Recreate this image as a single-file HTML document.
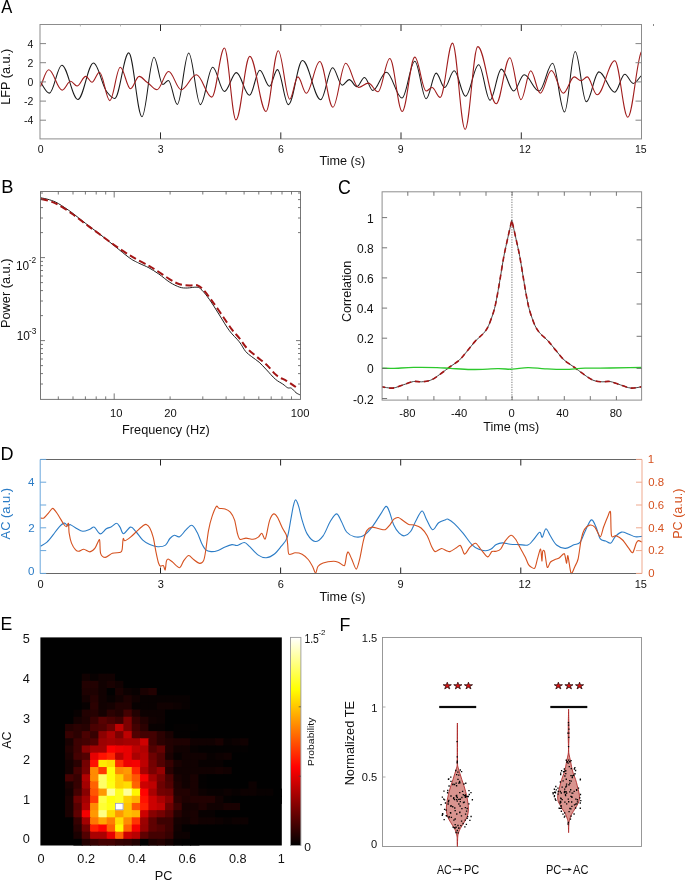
<!DOCTYPE html>
<html><head><meta charset="utf-8"><title>Figure</title>
<style>
html,body{margin:0;padding:0;background:#fff;}
body{width:685px;height:881px;overflow:hidden;font-family:"Liberation Sans",sans-serif;}
svg{display:block;}
svg text{font-family:"Liberation Sans",sans-serif;}
</style></head><body>
<svg width="685" height="881" viewBox="0 0 685 881">
<rect width="685" height="881" fill="#fff"/>
<g opacity="0.999">
<g id="A">
<path d="M40.5 82.2C43.7 86.4 46.2 93.1 49.4 93.1C53.9 93.1 57.3 65.2 61.8 65.2C67.6 65.2 72.1 99.4 77.9 99.4C83.5 99.4 87.9 63.1 93.5 63.1C98.3 63.1 102 86.1 106.8 91.8C109.6 95.2 111.9 98.5 114.7 98.5C119.7 98.5 123.7 52.9 128.7 52.9C133.5 52.9 137.2 116.7 142 116.7C146.3 116.7 149.7 57.2 154 57.2C157.2 57.2 159.6 84.5 162.8 84.5C164.8 84.5 166.4 80.4 168.4 80.4C171.6 80.4 174.1 104.4 177.3 104.4C181.4 104.4 184.6 52.9 188.7 52.9C192.9 52.9 196.2 104.6 200.4 104.6C204.8 104.6 208.3 67.3 212.7 67.3C216.9 67.3 220.2 91.5 224.4 91.5C228.7 91.5 232.1 72.6 236.4 72.6C241.1 72.6 244.8 95.3 249.5 95.3C253.2 95.3 256.1 70.2 259.8 70.2C263.3 70.2 266 86.2 269.5 86.2C272.3 86.2 274.6 69.6 277.4 69.6C281.4 69.6 284.4 104.6 288.4 104.6C293.5 104.6 297.4 60.6 302.5 60.6C309.1 60.6 314.1 99.7 320.7 99.7C325 99.7 328.3 67.7 332.6 67.7C336.1 67.7 338.7 85.2 342.2 85.2C344.7 85.2 346.7 79.6 349.2 79.6C352 79.6 354.1 86.6 356.9 86.6C359.6 86.6 361.8 77.4 364.5 77.4C367.5 77.4 369.8 90.4 372.8 90.4C377.7 90.4 381.5 72.2 386.4 72.2C392 72.2 396.4 98 402 98C406.6 98 410.2 61.2 414.8 61.2C418.9 61.2 422.1 98.8 426.2 98.8C429.8 98.8 432.6 73.1 436.2 73.1C439.2 73.1 441.6 87.5 444.6 87.5C448.1 87.5 450.7 70.8 454.2 70.8C458.3 70.8 461.4 96.2 465.5 96.2C470.3 96.2 473.9 64.7 478.7 64.7C482.8 64.7 485.9 100.2 490 100.2C494.1 100.2 497.3 69.1 501.4 69.1C505.8 69.1 509.3 91 513.7 91C517.5 91 520.4 74.8 524.2 74.8C529.6 74.8 533.7 91 539.1 91C544 91 547.7 63.3 552.6 63.3C556.9 63.3 560.2 112 564.5 112C568.4 112 571.3 51.5 575.2 51.5C579.2 51.5 582.3 101.8 586.3 101.8C590.8 101.8 594.4 71.9 598.9 71.9C604.6 71.9 609 92.2 614.7 92.2C618.3 92.2 621.2 74.3 624.8 74.3C627.8 74.3 630.2 83.4 633.2 83.4C636.2 83.4 638.5 78.1 641.5 75.7" fill="none" stroke="#1a1a1a" stroke-width="1.05"/>
<path d="M40.5 86.6C43.5 80.1 45.7 69.8 48.7 69.8C53.6 69.8 57.3 90.1 62.2 90.1C65.2 90.1 67.6 81.3 70.6 81.3C72.9 81.3 74.7 86 77 86C80.2 86 82.6 76.4 85.8 76.4C88 76.4 89.7 82.2 91.9 82.2C94.6 82.2 96.8 72.2 99.5 72.2C103.2 72.2 106.1 100.6 109.8 100.6C113.6 100.6 116.5 67.3 120.3 67.3C124 67.3 126.8 88.7 130.5 88.7C133.6 88.7 136.1 76.4 139.2 76.4C142 76.4 144.2 80.5 147 82.2C150.6 84.4 153.4 89.7 157 89.7C161.2 89.7 164.4 71.5 168.6 71.5C173.1 71.5 176.7 89.7 181.2 89.7C186.7 89.7 190.9 74.8 196.4 74.8C201.9 74.8 206.3 97.1 211.8 97.1C216.3 97.1 219.9 48 224.4 48C228.6 48 231.8 119.9 236 119.9C241 119.9 244.8 56.4 249.8 56.4C255.6 56.4 260.2 111.5 266 111.5C270.4 111.5 273.9 50.7 278.3 50.7C282.4 50.7 285.6 99.2 289.7 99.2C292.7 99.2 294.9 76.9 297.9 76.9C300.9 76.9 303.3 93.2 306.3 93.2C311.2 93.2 314.9 61.5 319.8 61.5C324.5 61.5 328.2 107.2 332.9 107.2C337.5 107.2 341.1 63.3 345.7 63.3C350.3 63.3 353.9 87.5 358.5 87.5C362.1 87.5 364.8 83.1 368.4 83.1C371.9 83.1 374.5 91.8 378 91.8C382.2 91.8 385.6 58.5 389.8 58.5C394.3 58.5 397.7 111.5 402.2 111.5C406.7 111.5 410.3 57.1 414.8 57.1C418.9 57.1 422.1 91 426.2 91C428.3 91 429.9 87.5 432 87.5C435 87.5 437.2 97.4 440.2 97.4C444.6 97.4 448.1 43.1 452.5 43.1C457 43.1 460.6 129.5 465.1 129.5C469.7 129.5 473.2 46.6 477.8 46.6C484.4 46.6 489.6 103.7 496.2 103.7C501.1 103.7 504.9 57.7 509.8 57.7C513.8 57.7 517 99.7 521 99.7C524.5 99.7 527.2 70.8 530.7 70.8C534.2 70.8 536.8 93.2 540.3 93.2C544.3 93.2 547.4 70.5 551.4 70.5C555.7 70.5 559 93.2 563.3 93.2C567.3 93.2 570.3 76.9 574.3 76.9C576.7 76.9 578.6 80.8 581 80.8C583.2 80.8 585 76.9 587.2 76.9C590.8 76.9 593.5 94.8 597.1 94.8C603.5 94.8 608.4 60.8 614.8 60.8C619.5 60.8 623.1 117.2 627.8 117.2C632.7 117.2 636.6 58.9 641.5 51.5" fill="none" stroke="#a01c1c" stroke-width="1.1"/>
<rect x="40.0" y="24.5" width="601.5" height="114.4" fill="none" stroke="#8c8c8c" stroke-width="1"/>
<path d="M160.5 24.5v6.5M160.5 138.9v-6.5M280.8 24.5v6.5M280.8 138.9v-6.5M401 24.5v6.5M401 138.9v-6.5M521.3 24.5v6.5M521.3 138.9v-6.5" stroke="#2a2a2a" stroke-width="1" fill="none"/>
<path d="M80.4 24.5v2M120.5 24.5v2M200.6 24.5v2M240.7 24.5v2M320.9 24.5v2M360.9 24.5v2M441.1 24.5v2M481.2 24.5v2M561.3 24.5v2M601.4 24.5v2" stroke="#aaa" stroke-width="0.8" fill="none"/>
<path d="M40.0 43.6h6M641.5 43.6h-6M40.0 62.7h6M641.5 62.7h-6M40.0 81.9h6M641.5 81.9h-6M40.0 101.1h6M641.5 101.1h-6M40.0 120.2h6M641.5 120.2h-6" stroke="#858585" stroke-width="1" fill="none"/>
<text x="33.3" y="47.8" font-size="10.5" text-anchor="end" fill="#111">4</text>
<text x="33.3" y="66.9" font-size="10.5" text-anchor="end" fill="#111">2</text>
<text x="33.3" y="86.1" font-size="10.5" text-anchor="end" fill="#111">0</text>
<text x="33.3" y="105.3" font-size="10.5" text-anchor="end" fill="#111">-2</text>
<text x="33.3" y="124.4" font-size="10.5" text-anchor="end" fill="#111">-4</text>
<text x="40.6" y="153" font-size="10.5" text-anchor="middle" fill="#111">0</text>
<text x="160.7" y="153" font-size="10.5" text-anchor="middle" fill="#111">3</text>
<text x="280.9" y="153" font-size="10.5" text-anchor="middle" fill="#111">6</text>
<text x="400.7" y="153" font-size="10.5" text-anchor="middle" fill="#111">9</text>
<text x="524.9" y="153" font-size="10.5" text-anchor="middle" fill="#111">12</text>
<text x="640.8" y="153" font-size="10.5" text-anchor="middle" fill="#111">15</text>
<text transform="matrix(1 0 0 1 319.46 164.7)" font-size="12.65" fill="#111">Time (s)</text>
<text transform="matrix(0 -1.000 1 0 10.20 104.75)" font-size="12.65" fill="#111">LFP (a.u.)</text>
<text transform="matrix(0.89 0 0 1 1.27 12.8)" font-size="18.6" fill="#000">A</text>
<rect x="653" y="24" width="1" height="2" fill="#888"/>
</g>
<g id="B">
<path d="M41 197.8C42.4 198.1 46.7 198.9 49.6 199.8C52.5 200.8 54.6 201.3 58.3 203.5C62 205.7 67.5 209.4 72 212.7C76.5 216 81 219.9 85.6 223.4C90.1 226.9 94.5 230.1 99.3 233.8C104.1 237.5 109.2 241.7 114.2 245.7C119.2 249.7 125.6 255 129.1 257.6C132.6 260.2 133.5 260.4 135.3 261.4C137.1 262.4 137.7 262.6 140 263.7C142.3 264.8 145.8 266.1 148.9 267.8C152 269.5 155.3 271.6 158.8 274C162.3 276.4 166.3 280.1 169.8 282.3C173.3 284.5 176.8 286.2 179.7 287.2C182.6 288.1 184.3 288 187.2 288C190.1 288 194.6 286.8 197.1 287.2C199.6 287.6 199.9 288.1 202 290.2C204.1 292.3 206.6 295.5 209.5 299.6C212.4 303.7 216.1 309.8 219.4 315C222.7 320.2 226.1 326.2 229.4 330.7C232.7 335.2 236.6 338.4 239.3 341.8C242 345.2 243.4 348.8 245.5 351.3C247.6 353.8 249.4 354.9 251.7 356.7C254 358.5 256.6 360 259.1 362.2C261.6 364.4 263.9 367.1 266.6 369.9C269.3 372.7 272.6 376.8 275.3 379.1C278 381.5 280.6 382.6 282.7 384C284.8 385.4 286.2 387.1 287.7 387.8C289.1 388.5 290 387.4 291.4 388.2C292.8 389 294.5 391.5 296 392.7C297.5 393.9 299.8 394.7 300.5 395.1" fill="none" stroke="#222" stroke-width="1"/>
<path d="M41 199C42.4 199.3 46.7 200 49.6 201C52.5 202 54.6 202.7 58.3 204.8C62 206.9 67.5 210.5 72 213.7C76.5 216.9 81 220.6 85.6 224C90.1 227.4 94.5 230.5 99.3 234C104.1 237.5 109.2 241.5 114.2 245C119.2 248.5 124.8 252.2 129.1 254.9C133.4 257.6 136.7 259.4 140 261.2C143.3 263 146.4 264.4 148.9 265.8C151.4 267.2 151.4 267.1 154.9 269.4C158.4 271.6 165.7 276.8 169.8 279.3C173.9 281.8 176.4 283.3 179.7 284.3C183 285.3 186.7 285.4 189.6 285.5C192.5 285.6 194.8 284.5 197.1 285.2C199.4 285.9 200.8 287.1 203.3 289.7C205.8 292.3 208.9 296.7 212 300.9C215.1 305.1 218.6 310.2 221.9 315C225.2 319.8 228.9 325.5 231.8 329.4C234.7 333.2 236.8 335 239.3 338.1C241.8 341.2 243.8 344.9 246.7 348C249.6 351.1 253.4 353.9 256.7 356.7C260 359.5 263.3 361.6 266.6 364.7C269.9 367.8 273.2 372.6 276.5 375.3C279.8 378 283.2 378.9 286.4 380.8C289.6 382.8 294.3 386 295.9 387" fill="none" stroke="#a31515" stroke-width="2" stroke-dasharray="7 3.6"/>
<rect x="40.5" y="191.5" width="260.0" height="207.89999999999998" fill="none" stroke="#777" stroke-width="1"/>
<path d="M58.3 191.5v3M58.3 399.4v-3M73 191.5v3M73 399.4v-3M85.4 191.5v3M85.4 399.4v-3M96.2 191.5v3M96.2 399.4v-3M105.7 191.5v3M105.7 399.4v-3M170.1 191.5v3M170.1 399.4v-3M202.8 191.5v3M202.8 399.4v-3M226.1 191.5v3M226.1 399.4v-3M244.1 191.5v3M244.1 399.4v-3M258.8 191.5v3M258.8 399.4v-3M271.2 191.5v3M271.2 399.4v-3M282 191.5v3M282 399.4v-3M291.5 191.5v3M291.5 399.4v-3M114.2 191.5v6M114.2 399.4v-6M40.5 384h2.5M300.5 384h-2.5M40.5 373.6h2.5M300.5 373.6h-2.5M40.5 365.6h2.5M300.5 365.6h-2.5M40.5 359h2.5M300.5 359h-2.5M40.5 353.5h2.5M300.5 353.5h-2.5M40.5 348.6h2.5M300.5 348.6h-2.5M40.5 344.4h2.5M300.5 344.4h-2.5M40.5 340.6h4.5M300.5 340.6h-4.5M40.5 315.6h2.5M40.5 301h2.5M40.5 290.6h2.5M40.5 282.6h2.5M40.5 276h2.5M40.5 270.5h2.5M40.5 265.6h2.5M40.5 261.4h2.5M40.5 257.6h4.5M40.5 232.6h2.5M300.5 232.6h-2.5M40.5 218h2.5M300.5 218h-2.5M40.5 207.6h2.5M300.5 207.6h-2.5M40.5 199.6h2.5M300.5 199.6h-2.5M40.5 193h2.5M300.5 193h-2.5" stroke="#555" stroke-width="0.8" fill="none"/>
<text transform="matrix(1 0 0 1 109.96 417)" font-size="11.2" fill="#111">10</text>
<text transform="matrix(1 0 0 1 164.21 417)" font-size="11.2" fill="#111">20</text>
<text transform="matrix(1 0 0 1 290.85 417)" font-size="11.2" fill="#111">100</text>
<text transform="matrix(1.02 0 0 1 122.04 433.6)" font-size="12.5" fill="#111">Frequency (Hz)</text>
<text transform="matrix(0 -0.990 1 0 10.40 328.01)" font-size="12.90" fill="#111">Power (a.u.)</text>
<text transform="matrix(0.96 0 0 1 16 269.7)" font-size="12.3" fill="#111">10</text>
<text transform="matrix(1 0 0 1 28.73 263.4)" font-size="8.4" fill="#111">-2</text>
<text transform="matrix(0.96 0 0 1 16.8 339.9)" font-size="12.3" fill="#111">10</text>
<text transform="matrix(1 0 0 1 29.03 334)" font-size="8.4" fill="#111">-3</text>
<text transform="matrix(1 0 0 1 1.3 192.8)" font-size="18.31" fill="#000">B</text>
</g>
<g id="C">
<path d="M511.9 191.8V400.1" stroke="#999" stroke-width="1.3" stroke-dasharray="1.2 1.3" fill="none"/>
<path d="M382 386.8C383.8 387 389.1 388.4 392.6 388.1C396.1 387.8 399.6 386 403.1 384.9C406.6 383.8 410.5 382 413.6 381.5C416.7 381 418.7 382 421.5 381.8C424.3 381.6 427.6 381.4 430.6 380.2C433.7 379 436.5 376.7 439.8 374.4C443.1 372.1 447.1 368.9 450.4 366.5C453.7 364.1 456.7 362.6 459.5 360C462.3 357.4 464.8 353.9 467.4 350.8C470 347.7 472.7 344 475.3 341.1C477.9 338.2 481 336.2 483.2 333.7C485.4 331.1 486.8 329.5 488.5 325.8C490.2 322.1 492.4 315.7 493.7 311.4C495 307.1 495.4 305.1 496.4 299.8C497.5 294.5 498.8 286.7 500 279.5C501.2 272.3 502.5 263.8 503.8 256.7C505.1 249.6 506.7 243.1 508 237C509.3 230.9 511.2 223 511.8 220.2C512.4 223 514.3 230.9 515.6 237C516.9 243.1 518.5 249.6 519.8 256.7C521.1 263.8 522.4 272.3 523.6 279.5C524.8 286.7 526.1 294.5 527.2 299.8C528.2 305.1 528.6 307.1 529.9 311.4C531.2 315.7 533.4 322.1 535.1 325.8C536.9 329.5 538.2 331.1 540.4 333.7C542.6 336.2 545.7 338.2 548.3 341.1C550.9 344 553.6 347.7 556.2 350.8C558.8 353.9 561.3 357.4 564.1 360C566.9 362.6 569.9 364.1 573.2 366.5C576.5 368.9 580.5 372.1 583.8 374.4C587.1 376.7 590 379 593 380.2C596 381.4 599.3 381.6 602.1 381.8C604.9 382 606.9 381 610 381.5C613.1 382 617 383.8 620.5 384.9C624 386 627.5 387.8 631 388.1C634.5 388.4 639.8 387 641.6 386.8" fill="none" stroke="#333" stroke-width="0.9" stroke-linejoin="miter"/>
<path d="M382 386.8C383.8 387 389.1 388.4 392.6 388.1C396.1 387.8 399.6 386 403.1 384.9C406.6 383.8 410.5 382 413.6 381.5C416.7 381 418.7 382 421.5 381.8C424.3 381.6 427.6 381.4 430.6 380.2C433.7 379 436.5 376.7 439.8 374.4C443.1 372.1 447.1 368.9 450.4 366.5C453.7 364.1 456.7 362.6 459.5 360C462.3 357.4 464.8 353.9 467.4 350.8C470 347.7 472.7 344 475.3 341.1C477.9 338.2 481 336.2 483.2 333.7C485.4 331.1 486.8 329.5 488.5 325.8C490.2 322.1 492.4 315.7 493.7 311.4C495 307.1 495.4 305.1 496.4 299.8C497.5 294.5 498.8 286.7 500 279.5C501.2 272.3 502.5 263.8 503.8 256.7C505.1 249.6 506.7 243.1 508 237C509.3 230.9 511.2 223 511.8 220.2C512.4 223 514.3 230.9 515.6 237C516.9 243.1 518.5 249.6 519.8 256.7C521.1 263.8 522.4 272.3 523.6 279.5C524.8 286.7 526.1 294.5 527.2 299.8C528.2 305.1 528.6 307.1 529.9 311.4C531.2 315.7 533.4 322.1 535.1 325.8C536.9 329.5 538.2 331.1 540.4 333.7C542.6 336.2 545.7 338.2 548.3 341.1C550.9 344 553.6 347.7 556.2 350.8C558.8 353.9 561.3 357.4 564.1 360C566.9 362.6 569.9 364.1 573.2 366.5C576.5 368.9 580.5 372.1 583.8 374.4C587.1 376.7 590 379 593 380.2C596 381.4 599.3 381.6 602.1 381.8C604.9 382 606.9 381 610 381.5C613.1 382 617 383.8 620.5 384.9C624 386 627.5 387.8 631 388.1C634.5 388.4 639.8 387 641.6 386.8" fill="none" stroke="#a31515" stroke-width="1.6" stroke-dasharray="5.2 3.8" stroke-dashoffset="2" stroke-linejoin="miter"/>
<path d="M382 368.2C383.8 368.2 387.3 368.5 392.6 368.4C397.9 368.3 406.2 367.5 413.6 367.4C421 367.3 430.9 367.4 437 367.6C443.1 367.8 444.7 368.1 450.4 368.4C456.1 368.7 463.1 369.4 471 369.5C478.9 369.6 490.8 368.8 497.7 368.7C504.6 368.6 507.1 369.4 512.1 369.2C517.1 369 522.5 367.7 528 367.6C533.5 367.5 538.8 368.5 545 368.8C551.2 369.1 558.3 369.5 565 369.4C571.7 369.3 577.5 368.4 585 368.2C592.5 368 602.5 368.1 610 368C617.5 367.9 624.7 367.7 630 367.6C635.3 367.5 640 367.5 642 367.5" fill="none" stroke="#2cc82c" stroke-width="1.35"/>
<rect x="382.1" y="191.8" width="259.5" height="208.3" fill="none" stroke="#8e8e8e" stroke-width="1"/>
<path d="M407.8 191.8v4M407.8 400.1v-4M433.9 191.8v4M433.9 400.1v-4M459.9 191.8v4M459.9 400.1v-4M486 191.8v4M486 400.1v-4M512.1 191.8v4M512.1 400.1v-4M538.2 191.8v4M538.2 400.1v-4M564.3 191.8v4M564.3 400.1v-4M590.3 191.8v4M590.3 400.1v-4M616.4 191.8v4M616.4 400.1v-4M382.1 217.6h5M382.1 247.8h5M382.1 277.9h5M382.1 308.1h5M382.1 338.2h5M382.1 368.4h5M382.1 398.5h5M641.6 368.4h-5M641.6 336.3h-5M641.6 304h-5M641.6 272.5h-5M641.6 239.9h-5M641.6 207.6h-5" stroke="#666" stroke-width="0.9" fill="none"/>
<text transform="matrix(0.98 0 0 1 367.08 222.6)" font-size="12.3" fill="#111">1</text>
<text transform="matrix(0.98 0 0 1 356.97 252.75)" font-size="12.3" fill="#111">0.8</text>
<text transform="matrix(0.98 0 0 1 356.97 282.9)" font-size="12.3" fill="#111">0.6</text>
<text transform="matrix(0.98 0 0 1 356.8 313.05)" font-size="12.3" fill="#111">0.4</text>
<text transform="matrix(0.98 0 0 1 357.05 343.2)" font-size="12.3" fill="#111">0.2</text>
<text transform="matrix(0.98 0 0 1 366.97 373.35)" font-size="12.3" fill="#111">0</text>
<text transform="matrix(0.98 0 0 1 353.04 403.5)" font-size="12.3" fill="#111">-0.2</text>
<text transform="matrix(1 0 0 1 399.18 416.9)" font-size="11.2" fill="#111">-80</text>
<text transform="matrix(1 0 0 1 450.98 416.9)" font-size="11.2" fill="#111">-40</text>
<text transform="matrix(1 0 0 1 508.49 416.9)" font-size="11.2" fill="#111">0</text>
<text transform="matrix(1 0 0 1 556.36 416.9)" font-size="11.2" fill="#111">40</text>
<text transform="matrix(1 0 0 1 609.65 416.9)" font-size="11.2" fill="#111">80</text>
<text transform="matrix(1 0 0 1 483.22 431.1)" font-size="12.55" fill="#111">Time (ms)</text>
<text transform="matrix(0 -0.964 1 0 351.10 322.06)" font-size="13.00" fill="#111">Correlation</text>
<text transform="matrix(0.91 0 0 1 338 194.31)" font-size="19.49" fill="#000">C</text>
</g>
<g id="D">
<path d="M40.5 546.2C41.6 545.5 44.9 544 47 542.1C49.1 540.2 51.1 537.5 53.1 534.9C55.1 532.3 57.4 528.8 59.3 526.8C61.2 524.8 63.1 523.3 64.4 523.1C65.8 522.9 66.4 525.4 67.4 525.7C68.4 526 69 524.2 70.5 524.7C72 525.2 74.5 527.3 76.6 528.4C78.6 529.5 80.6 531.1 82.8 531.2C85 531.3 88 529.9 89.9 529.2C91.8 528.5 92.7 526.4 94.4 527.2C96.1 528 98.1 533.6 100.1 533.9C102.1 534.2 104.4 530 106.3 528.8C108.2 527.6 109.7 527.7 111.4 526.8C113.1 525.9 115.1 523.2 116.5 523.3C117.9 523.3 118.8 525.4 120 527.1C121.2 528.8 121.8 533.7 123.5 533.7C125.2 533.7 128.4 527.5 130.5 527.1C132.6 526.7 133.8 529.3 135.8 531.5C137.9 533.7 140.5 538 142.8 540.2C145.1 542.4 147.3 543.5 149.8 544.6C152.3 545.7 155.1 546.6 157.7 546.7C160.3 546.8 163.5 546.5 165.5 545.1C167.5 543.7 168.4 540.1 169.9 538.5C171.4 536.9 172.7 535.6 174.3 535.3C175.9 535 177.7 537.6 179.6 536.7C181.5 535.9 183.7 532.1 185.7 530.2C187.7 528.3 189.9 524.9 191.8 525.3C193.7 525.6 195.5 529.4 197.1 532.3C198.7 535.2 200.1 540 201.5 542.9C202.9 545.8 204.2 548.4 205.8 549.9C207.4 551.4 209.1 551.5 211.1 551.6C213.1 551.7 215.8 551.2 218.1 550.4C220.4 549.6 222.8 547.9 225.1 546.9C227.4 545.9 230 544.8 232 544.6C234 544.4 235.2 545.9 237.3 545.5C239.4 545.1 242.3 542.4 244.3 542.5C246.3 542.6 247.2 544.3 249.5 546.4C251.8 548.5 255.5 553.2 258.3 555.1C261.1 557 263.6 557.9 266.2 557.7C268.8 557.6 271.6 556.1 274.1 554.2C276.6 552.3 278.9 549.2 281.1 546.4C283.3 543.6 285.6 542 287.2 537.6C288.8 533.2 289.7 525.4 290.7 520.1C291.7 514.9 292.5 509.5 293.3 506.1C294.1 502.7 294.7 499.9 295.6 499.9C296.5 499.9 297.5 502.7 298.6 506.1C299.7 509.5 300.7 515.4 302.1 520.1C303.6 524.8 305.1 530.5 307.3 534.1C309.5 537.7 312.6 541.2 315.2 541.5C317.8 541.8 320.6 539.1 323.1 535.8C325.6 532.5 327.9 525.4 330.1 521.8C332.3 518.1 334.6 514 336.5 513.9C338.4 513.8 339.7 518.4 341.4 521.4C343.1 524.4 344.4 529.5 346.6 532C348.8 534.5 351.7 536.1 354.5 536.7C357.3 537.3 360.4 537.4 363.3 535.8C366.2 534.2 369.1 530.8 372 527.1C374.9 523.5 378.4 517.4 380.8 513.9C383.2 510.4 384.6 506.7 386.1 506.4C387.6 506.1 388.3 509.1 389.6 512.2C390.9 515.4 392.3 521.8 393.9 525.3C395.5 528.8 397.4 531.5 399.2 533.2C401 535 402.6 536.1 404.5 535.8C406.4 535.5 408.7 534 410.6 531.5C412.5 529 413.9 524.4 415.8 521C417.7 517.6 420.2 511.3 422 511C423.8 510.7 424.6 516.1 426.4 519.2C428.1 522.3 430.5 529.1 432.5 529.7C434.5 530.3 436.4 524.4 438.6 522.7C440.8 521 444 520.3 445.6 519.7C447.2 519.1 446.7 518.6 448.1 519.2C449.6 519.9 451.8 521.3 454.3 523.6C456.8 525.9 460.1 529.7 463 533.2C465.9 536.7 469.2 541.9 471.8 544.6C474.4 547.3 476.5 548.3 478.8 549.3C481.1 550.3 483.8 550.8 485.8 550.7C487.9 550.7 489.4 550 491.1 549C492.9 548 494.4 545.6 496.3 544.6C498.2 543.6 500.2 543 502.5 542.9C504.8 542.8 507.5 544 510.3 544.3C513.1 544.6 516.2 544.5 519.1 544.6C522 544.7 525.6 545.7 527.9 545C530.2 544.3 531.1 542.3 533.1 540.2C535.1 538.1 538.1 532.8 539.6 532.3C541.1 531.8 541.2 537.8 542.3 537.2C543.3 536.6 544.5 528.9 545.9 528.7C547.3 528.6 548.8 533.5 550.6 536.3C552.4 539.1 554.4 543.3 556.9 545.3C559.4 547.3 562.6 548.5 565.4 548.4C568.2 548.3 571.4 545.8 573.9 544.8C576.4 543.8 578.3 544.5 580.2 542.1C582.1 539.7 583.6 534.1 585.5 530.4C587.4 526.7 589.6 520.4 591.4 519.9C593.2 519.4 594.6 524.1 596.1 527.3C597.6 530.5 598.7 536.6 600.3 538.9C601.9 541.2 603.8 540.3 605.6 541C607.4 541.7 609.3 543.8 610.9 543.1C612.5 542.4 613.3 538.6 615.1 536.8C616.9 535 619.2 532.5 621.5 532.1C623.8 531.7 626.6 533.4 628.9 534.2C631.2 535 633.1 536.4 635.3 536.8C637.5 537.2 640.9 536.5 642 536.4" fill="none" stroke="#2b7cc6" stroke-width="1.1" stroke-linejoin="round"/>
<path d="M40.5 518C41 518 42.8 518.7 43.9 518C45 517.3 47.8 513.7 49 512.4C50.2 511.1 51.6 508.3 52.7 508.4C53.8 508.5 55.8 511.5 57.2 513.5C58.6 515.5 62.2 521.9 63.4 523.7C64.6 525.5 65.7 526.8 66.4 526.7C67.1 526.6 68.1 522.5 68.5 523.3C68.9 524.1 68.7 530.3 69.1 532.9C69.5 535.5 70.6 540.8 71.5 543.1C72.4 545.4 74.6 548.7 75.6 549.8C76.6 550.9 77.6 551.4 78.7 551.3C79.8 551.2 82.3 549.1 83.8 549.2C85.3 549.3 88.4 552 89.9 551.9C91.4 551.8 93.7 549.8 95 548.2C96.3 546.6 98.8 538.9 99.5 539.6C100.2 540.3 99.8 550.9 100.6 553.3C101.4 555.7 103.7 557.4 105.3 557.4C106.9 557.4 110.4 554 112.4 553.3C114.4 552.6 119.3 552.8 120.6 552.3C121.9 551.8 121.9 551 122.2 549.2C122.5 547.4 122.8 539.7 123.2 538.6C123.6 537.5 123.9 541 124.9 540.8C125.9 540.6 128.8 538.6 130.5 537.2C132.2 535.8 135.7 532.2 137.5 530.6C139.3 529 142.5 526.1 143.7 525.3C144.9 524.5 145.5 524.1 146.3 524.5C147.1 524.9 148.9 526.3 149.8 528C150.7 529.7 152.5 534.5 153.3 537.6C154.1 540.7 155.2 548.2 155.9 551.6C156.6 555 157.9 561.1 158.5 563C159.1 564.9 159.9 565.9 160.6 566.2C161.3 566.5 162.8 565.1 163.4 565.6C164 566.1 164.8 570.6 165.2 570C165.6 569.4 166 562.7 166.4 561.2C166.8 559.7 167.4 558.9 168.2 559C169 559.1 171.1 560.9 172.6 562.1C174.1 563.3 178.1 567.9 179.6 567.7C181.1 567.5 182.7 562 183.9 560.4C185.1 558.8 187.4 555.6 188.7 555.5C190 555.4 192.1 558.4 193.6 559.5C195.1 560.6 198.4 563.3 199.7 563.4C201 563.5 202.9 562.2 203.7 560.4C204.5 558.6 205.2 553.9 205.8 549.9C206.4 545.9 207.7 535 208.5 530.6C209.3 526.2 210.9 519.8 212 516.6C213.1 513.4 215.5 507.5 216.4 506.4C217.3 505.3 217.8 507.9 219 508.2C220.2 508.5 223.6 508.5 225.1 509C226.6 509.5 229 510.7 230.3 512.2C231.6 513.7 233.7 517.3 234.6 520.1C235.5 522.9 236.6 530.4 237.3 533C238 535.6 238.7 538.6 239.9 539.3C241.1 540 244.3 538.1 246 538.1C247.7 538.1 251.4 539.4 253 539.3C254.6 539.2 257.1 537.9 258.3 537.1C259.5 536.3 260.9 532.9 261.8 533.2C262.7 533.5 264.2 539.4 264.9 539.3C265.6 539.2 266.4 534.9 267 532.3C267.6 529.7 268.8 522.6 269.7 520.1C270.6 517.6 272.6 514.2 273.7 513.9C274.8 513.6 276.4 515.5 277.6 517.5C278.8 519.5 281.6 526.5 282.8 528.8C284 531.1 285.6 532.9 286.3 535C287 537.1 287.4 542 287.7 544.6C288 547.2 287.9 553.1 288.9 554.2C289.9 555.3 293.3 552.8 295.1 552.8C296.9 552.8 300.4 553.3 302.1 554.2C303.8 555.1 306.8 557.9 308.2 559.5C309.6 561.1 311.6 564.7 312.6 566.5C313.6 568.3 314.9 573.2 315.6 573.2C316.3 573.2 316.9 567.9 317.9 566.5C318.9 565.1 321 563.7 323.1 563C325.2 562.3 331.5 561.3 333.6 561.2C335.7 561.1 337.3 561.9 338.8 562.5C340.3 563.1 343.5 566.6 344.5 565.6C345.5 564.6 346.1 556.9 346.6 555.1C347.1 553.3 347.7 551.5 348.4 552.1C349.1 552.7 350.8 557.2 351.9 559.5C353 561.8 355.2 569.2 356.3 569.1C357.4 569 358.9 562.3 359.8 558.6C360.7 554.9 362.4 544.8 363.3 541.1C364.2 537.4 365.6 532.5 366.8 530.6C368 528.7 370.4 527.3 372 527.1C373.6 526.9 377.3 528.5 379.1 528.8C380.9 529.1 383.8 530.2 385.2 529.7C386.6 529.2 388.4 526.7 389.6 525.3C390.8 523.9 392.7 520.2 393.9 519.2C395.1 518.2 397 517.3 398.3 517.5C399.6 517.7 402.2 520.1 403.6 521C405 521.9 407.4 524 408.8 524.5C410.2 525 412.5 524.5 414.1 525C415.7 525.5 419.4 526.6 421.1 528C422.8 529.4 425.8 533.3 427.2 535.8C428.6 538.3 430.5 544.3 431.6 546.4C432.7 548.5 433.8 551.3 435.1 551.6C436.4 551.9 440 548.6 441.5 548.5C443 548.4 445.4 550.3 446.5 550.7C447.6 551.1 448.6 551.9 449.9 551.6C451.2 551.3 454.6 548.9 456 548.1C457.4 547.3 459.3 544.8 460.4 545.5C461.5 546.2 463.2 552.3 463.9 553.4C464.6 554.5 464.9 554.2 465.7 553.4C466.5 552.6 468.7 548.6 470 547.2C471.3 545.8 474.2 543 475.6 543.2C477 543.4 479 547.2 480.6 549C482.2 550.8 486.1 556.6 487.6 556.9C489.1 557.2 490.7 552.3 491.9 551.6C493.1 550.9 495.1 551.6 496.3 551.3C497.5 551 499.5 550.4 500.7 549C501.9 547.6 503.7 542.9 505.1 541.1C506.5 539.3 509.5 535.5 510.9 535.3C512.3 535.1 514.3 537.5 515.6 539.3C516.9 541.1 519.5 546.7 520.8 549C522.1 551.3 524.1 554.8 525.2 556.9C526.3 559 527.5 563.3 528.7 564.8C529.9 566.3 533.3 569.1 534.5 568.3C535.7 567.5 536.7 561.2 537.5 558.6C538.3 556 540 548.7 540.6 549C541.2 549.3 541.6 560.7 541.9 561C542.2 561.3 542.3 552.7 542.7 551.4C543.1 550.1 544 549.5 544.6 551.6C545.2 553.7 546.4 565.9 547.2 567.3C548 568.7 549.5 563 550.5 562C551.5 561 553.9 560 555 559.5C556.1 559 557.9 558.8 559.1 558C560.3 557.2 563.3 553 564.3 553.7C565.3 554.4 566 562.9 566.5 563.2C567 563.5 567.3 554.4 567.9 555.8C568.5 557.2 570.2 572 571.1 573.4C572 574.8 574 568.3 574.9 566.4C575.8 564.5 577.2 562.7 578.1 559C579 555.3 580.4 542.8 581.3 538.9C582.2 535 583.4 531.2 584.5 529.4C585.6 527.6 588.3 525.4 589.7 525.1C591.1 524.8 593.6 525.7 595 527.3C596.4 528.9 599.2 536.8 600.3 536.8C601.4 536.8 602.5 530 603.5 527.3C604.5 524.6 606.8 518.7 607.7 516.7C608.6 514.7 610 509.5 610.5 512C611 514.5 610.7 532.5 611.5 535.7C612.3 538.9 614.7 535.1 616.2 535.7C617.7 536.3 620.9 538.3 622.6 540C624.3 541.7 627.6 546.7 628.9 548.4C630.2 550.1 631.7 553.4 632.7 552.7C633.7 552 635.5 544.7 636.3 543.1C637.1 541.5 637.6 540.7 638.4 540.6C639.2 540.5 641.5 541.9 642 542.1" fill="none" stroke="#d5511f" stroke-width="1.1" stroke-linejoin="round"/>
<path d="M40.2 459.5H642M40.2 573.5H642" stroke="#666" stroke-width="1" fill="none"/>
<path d="M160.5 459.5v6M160.5 573.5v-6M280.6 459.5v6M280.6 573.5v-6M400.7 459.5v6M400.7 573.5v-6M520.8 459.5v6M520.8 573.5v-6" stroke="#222" stroke-width="1" fill="none"/>
<path d="M40.2 459.5V573.5M40.2 573.4h6M40.2 550.6h6M40.2 527.8h6M40.2 505h6M40.2 482.2h6M40.2 459.4h6" stroke="#6aa7dc" stroke-width="1" fill="none"/>
<path d="M642 459.5V573.5M642 573.4h-6M642 550.6h-6M642 527.8h-6M642 505h-6M642 482.2h-6M642 459.4h-6" stroke="#efa98e" stroke-width="1" fill="none"/>
<text transform="matrix(1 0 0 1 27.89 485.7)" font-size="11.6" fill="#2b7cc6">4</text>
<text transform="matrix(1 0 0 1 28.13 531.8)" font-size="11.6" fill="#2b7cc6">2</text>
<text transform="matrix(1 0 0 1 28 575.2)" font-size="11.6" fill="#2b7cc6">0</text>
<text transform="matrix(1 0 0 1 648.25 577.2)" font-size="11.4" fill="#d5511f">0</text>
<text transform="matrix(1 0 0 1 648.25 554.4)" font-size="11.4" fill="#d5511f">0.2</text>
<text transform="matrix(1 0 0 1 648.25 531.6)" font-size="11.4" fill="#d5511f">0.4</text>
<text transform="matrix(1 0 0 1 648.25 508.8)" font-size="11.4" fill="#d5511f">0.6</text>
<text transform="matrix(1 0 0 1 648.25 486)" font-size="11.4" fill="#d5511f">0.8</text>
<text transform="matrix(1 0 0 1 647.83 463.2)" font-size="11.4" fill="#d5511f">1</text>
<text transform="matrix(1 0 0 1 37.54 587.6)" font-size="11" fill="#111">0</text>
<text transform="matrix(1 0 0 1 157.67 587.6)" font-size="11" fill="#111">3</text>
<text transform="matrix(1 0 0 1 277.8 587.6)" font-size="11" fill="#111">6</text>
<text transform="matrix(1 0 0 1 397.54 587.6)" font-size="11" fill="#111">9</text>
<text transform="matrix(1 0 0 1 518.54 587.6)" font-size="11" fill="#111">12</text>
<text transform="matrix(1 0 0 1 634.69 587.6)" font-size="11" fill="#111">15</text>
<text transform="matrix(1 0 0 1 319.56 601)" font-size="12.65" fill="#111">Time (s)</text>
<text transform="matrix(0 -1.000 1 0 10.30 539.42)" font-size="12.90" fill="#2b7cc6">AC (a.u.)</text>
<text transform="matrix(0 -1.000 1 0 681.60 538.83)" font-size="12.60" fill="#d5511f">PC (a.u.)</text>
<text transform="matrix(0.95 0 0 1 0.52 460.3)" font-size="19.04" fill="#000">D</text>
</g>
<g id="E">
<rect x="40.4" y="637.4" width="241.4" height="208.1" fill="#000"/>
<clipPath id="ec"><rect x="40.4" y="637.4" width="241.4" height="208.1"/></clipPath>
<g clip-path="url(#ec)">
<rect x="81.72" y="673.62" width="9.34" height="8.18" fill="#110000"/>
<rect x="90.06" y="673.62" width="9.34" height="8.18" fill="#080000"/>
<rect x="98.4" y="673.62" width="9.34" height="8.18" fill="#110000"/>
<rect x="106.73" y="673.62" width="9.34" height="8.18" fill="#110000"/>
<rect x="115.07" y="673.62" width="9.34" height="8.18" fill="#000000"/>
<rect x="81.72" y="680.81" width="9.34" height="8.18" fill="#220000"/>
<rect x="90.06" y="680.81" width="9.34" height="8.18" fill="#220000"/>
<rect x="98.4" y="680.81" width="9.34" height="8.18" fill="#110000"/>
<rect x="106.73" y="680.81" width="9.34" height="8.18" fill="#190000"/>
<rect x="115.07" y="680.81" width="9.34" height="8.18" fill="#110000"/>
<rect x="123.4" y="680.81" width="9.34" height="8.18" fill="#000000"/>
<rect x="81.72" y="688" width="9.34" height="8.18" fill="#1e0000"/>
<rect x="90.06" y="688" width="9.34" height="8.18" fill="#1e0000"/>
<rect x="98.4" y="688" width="9.34" height="8.18" fill="#110000"/>
<rect x="106.73" y="688" width="9.34" height="8.18" fill="#000000"/>
<rect x="115.07" y="688" width="9.34" height="8.18" fill="#190000"/>
<rect x="123.4" y="688" width="9.34" height="8.18" fill="#0d0000"/>
<rect x="131.74" y="688" width="9.34" height="8.18" fill="#080000"/>
<rect x="140.07" y="688" width="9.34" height="8.18" fill="#190000"/>
<rect x="148.41" y="688" width="9.34" height="8.18" fill="#220000"/>
<rect x="156.74" y="688" width="9.34" height="8.18" fill="#000000"/>
<rect x="81.72" y="695.18" width="9.34" height="8.18" fill="#150000"/>
<rect x="90.06" y="695.18" width="9.34" height="8.18" fill="#260000"/>
<rect x="98.4" y="695.18" width="9.34" height="8.18" fill="#110000"/>
<rect x="106.73" y="695.18" width="9.34" height="8.18" fill="#080000"/>
<rect x="115.07" y="695.18" width="9.34" height="8.18" fill="#110000"/>
<rect x="123.4" y="695.18" width="9.34" height="8.18" fill="#1e0000"/>
<rect x="131.74" y="695.18" width="9.34" height="8.18" fill="#110000"/>
<rect x="140.07" y="695.18" width="9.34" height="8.18" fill="#080000"/>
<rect x="148.41" y="695.18" width="9.34" height="8.18" fill="#080000"/>
<rect x="156.74" y="695.18" width="9.34" height="8.18" fill="#080000"/>
<rect x="165.07" y="695.18" width="9.34" height="8.18" fill="#080000"/>
<rect x="173.41" y="695.18" width="9.34" height="8.18" fill="#080000"/>
<rect x="181.75" y="695.18" width="9.34" height="8.18" fill="#080000"/>
<rect x="190.08" y="695.18" width="9.34" height="8.18" fill="#000000"/>
<rect x="81.72" y="702.37" width="9.34" height="8.18" fill="#080000"/>
<rect x="90.06" y="702.37" width="9.34" height="8.18" fill="#2b0000"/>
<rect x="98.4" y="702.37" width="9.34" height="8.18" fill="#110000"/>
<rect x="106.73" y="702.37" width="9.34" height="8.18" fill="#150000"/>
<rect x="115.07" y="702.37" width="9.34" height="8.18" fill="#220000"/>
<rect x="123.4" y="702.37" width="9.34" height="8.18" fill="#220000"/>
<rect x="131.74" y="702.37" width="9.34" height="8.18" fill="#080000"/>
<rect x="140.07" y="702.37" width="9.34" height="8.18" fill="#080000"/>
<rect x="148.41" y="702.37" width="9.34" height="8.18" fill="#080000"/>
<rect x="156.74" y="702.37" width="9.34" height="8.18" fill="#110000"/>
<rect x="165.07" y="702.37" width="9.34" height="8.18" fill="#110000"/>
<rect x="173.41" y="702.37" width="9.34" height="8.18" fill="#0d0000"/>
<rect x="181.75" y="702.37" width="9.34" height="8.18" fill="#080000"/>
<rect x="190.08" y="702.37" width="9.34" height="8.18" fill="#000000"/>
<rect x="73.39" y="709.55" width="9.34" height="8.18" fill="#080000"/>
<rect x="81.72" y="709.55" width="9.34" height="8.18" fill="#220000"/>
<rect x="90.06" y="709.55" width="9.34" height="8.18" fill="#260000"/>
<rect x="98.4" y="709.55" width="9.34" height="8.18" fill="#150000"/>
<rect x="106.73" y="709.55" width="9.34" height="8.18" fill="#2b0000"/>
<rect x="115.07" y="709.55" width="9.34" height="8.18" fill="#220000"/>
<rect x="123.4" y="709.55" width="9.34" height="8.18" fill="#430000"/>
<rect x="131.74" y="709.55" width="9.34" height="8.18" fill="#220000"/>
<rect x="140.07" y="709.55" width="9.34" height="8.18" fill="#0d0000"/>
<rect x="148.41" y="709.55" width="9.34" height="8.18" fill="#0d0000"/>
<rect x="156.74" y="709.55" width="9.34" height="8.18" fill="#0d0000"/>
<rect x="165.07" y="709.55" width="9.34" height="8.18" fill="#000000"/>
<rect x="173.41" y="709.55" width="9.34" height="8.18" fill="#000000"/>
<rect x="181.75" y="709.55" width="9.34" height="8.18" fill="#000000"/>
<rect x="190.08" y="709.55" width="9.34" height="8.18" fill="#000000"/>
<rect x="73.39" y="716.74" width="9.34" height="8.18" fill="#150000"/>
<rect x="81.72" y="716.74" width="9.34" height="8.18" fill="#1e0000"/>
<rect x="90.06" y="716.74" width="9.34" height="8.18" fill="#370000"/>
<rect x="98.4" y="716.74" width="9.34" height="8.18" fill="#580000"/>
<rect x="106.73" y="716.74" width="9.34" height="8.18" fill="#4a0000"/>
<rect x="115.07" y="716.74" width="9.34" height="8.18" fill="#3d0000"/>
<rect x="123.4" y="716.74" width="9.34" height="8.18" fill="#7c0000"/>
<rect x="131.74" y="716.74" width="9.34" height="8.18" fill="#370000"/>
<rect x="140.07" y="716.74" width="9.34" height="8.18" fill="#220000"/>
<rect x="148.41" y="716.74" width="9.34" height="8.18" fill="#110000"/>
<rect x="156.74" y="716.74" width="9.34" height="8.18" fill="#0d0000"/>
<rect x="165.07" y="716.74" width="9.34" height="8.18" fill="#000000"/>
<rect x="65.06" y="723.92" width="9.34" height="8.18" fill="#220000"/>
<rect x="73.39" y="723.92" width="9.34" height="8.18" fill="#2b0000"/>
<rect x="81.72" y="723.92" width="9.34" height="8.18" fill="#260000"/>
<rect x="90.06" y="723.92" width="9.34" height="8.18" fill="#4a0000"/>
<rect x="98.4" y="723.92" width="9.34" height="8.18" fill="#510000"/>
<rect x="106.73" y="723.92" width="9.34" height="8.18" fill="#6d0000"/>
<rect x="115.07" y="723.92" width="9.34" height="8.18" fill="#bd0000"/>
<rect x="123.4" y="723.92" width="9.34" height="8.18" fill="#7c0000"/>
<rect x="131.74" y="723.92" width="9.34" height="8.18" fill="#430000"/>
<rect x="140.07" y="723.92" width="9.34" height="8.18" fill="#2b0000"/>
<rect x="148.41" y="723.92" width="9.34" height="8.18" fill="#080000"/>
<rect x="156.74" y="723.92" width="9.34" height="8.18" fill="#080000"/>
<rect x="165.07" y="723.92" width="9.34" height="8.18" fill="#000000"/>
<rect x="173.41" y="723.92" width="9.34" height="8.18" fill="#040000"/>
<rect x="181.75" y="723.92" width="9.34" height="8.18" fill="#040000"/>
<rect x="190.08" y="723.92" width="9.34" height="8.18" fill="#040000"/>
<rect x="198.42" y="723.92" width="9.34" height="8.18" fill="#000000"/>
<rect x="65.06" y="731.11" width="9.34" height="8.18" fill="#370000"/>
<rect x="73.39" y="731.11" width="9.34" height="8.18" fill="#2b0000"/>
<rect x="81.72" y="731.11" width="9.34" height="8.18" fill="#4a0000"/>
<rect x="90.06" y="731.11" width="9.34" height="8.18" fill="#370000"/>
<rect x="98.4" y="731.11" width="9.34" height="8.18" fill="#8c0000"/>
<rect x="106.73" y="731.11" width="9.34" height="8.18" fill="#ac0000"/>
<rect x="115.07" y="731.11" width="9.34" height="8.18" fill="#7c0000"/>
<rect x="123.4" y="731.11" width="9.34" height="8.18" fill="#bd0000"/>
<rect x="131.74" y="731.11" width="9.34" height="8.18" fill="#510000"/>
<rect x="140.07" y="731.11" width="9.34" height="8.18" fill="#430000"/>
<rect x="148.41" y="731.11" width="9.34" height="8.18" fill="#430000"/>
<rect x="156.74" y="731.11" width="9.34" height="8.18" fill="#2b0000"/>
<rect x="165.07" y="731.11" width="9.34" height="8.18" fill="#190000"/>
<rect x="173.41" y="731.11" width="9.34" height="8.18" fill="#040000"/>
<rect x="181.75" y="731.11" width="9.34" height="8.18" fill="#040000"/>
<rect x="190.08" y="731.11" width="9.34" height="8.18" fill="#000000"/>
<rect x="198.42" y="731.11" width="9.34" height="8.18" fill="#000000"/>
<rect x="65.06" y="738.29" width="9.34" height="8.18" fill="#190000"/>
<rect x="73.39" y="738.29" width="9.34" height="8.18" fill="#3d0000"/>
<rect x="81.72" y="738.29" width="9.34" height="8.18" fill="#430000"/>
<rect x="90.06" y="738.29" width="9.34" height="8.18" fill="#510000"/>
<rect x="98.4" y="738.29" width="9.34" height="8.18" fill="#9c0000"/>
<rect x="106.73" y="738.29" width="9.34" height="8.18" fill="#a40000"/>
<rect x="115.07" y="738.29" width="9.34" height="8.18" fill="#9c0000"/>
<rect x="123.4" y="738.29" width="9.34" height="8.18" fill="#a40000"/>
<rect x="131.74" y="738.29" width="9.34" height="8.18" fill="#a40000"/>
<rect x="140.07" y="738.29" width="9.34" height="8.18" fill="#ce0000"/>
<rect x="148.41" y="738.29" width="9.34" height="8.18" fill="#430000"/>
<rect x="156.74" y="738.29" width="9.34" height="8.18" fill="#2b0000"/>
<rect x="165.07" y="738.29" width="9.34" height="8.18" fill="#220000"/>
<rect x="173.41" y="738.29" width="9.34" height="8.18" fill="#1e0000"/>
<rect x="181.75" y="738.29" width="9.34" height="8.18" fill="#1e0000"/>
<rect x="190.08" y="738.29" width="9.34" height="8.18" fill="#110000"/>
<rect x="198.42" y="738.29" width="9.34" height="8.18" fill="#110000"/>
<rect x="206.75" y="738.29" width="9.34" height="8.18" fill="#110000"/>
<rect x="215.09" y="738.29" width="9.34" height="8.18" fill="#190000"/>
<rect x="223.42" y="738.29" width="9.34" height="8.18" fill="#080000"/>
<rect x="231.75" y="738.29" width="9.34" height="8.18" fill="#0d0000"/>
<rect x="240.09" y="738.29" width="9.34" height="8.18" fill="#110000"/>
<rect x="248.43" y="738.29" width="9.34" height="8.18" fill="#000000"/>
<rect x="65.06" y="745.48" width="9.34" height="8.18" fill="#220000"/>
<rect x="73.39" y="745.48" width="9.34" height="8.18" fill="#3d0000"/>
<rect x="81.72" y="745.48" width="9.34" height="8.18" fill="#880000"/>
<rect x="90.06" y="745.48" width="9.34" height="8.18" fill="#a30000"/>
<rect x="98.4" y="745.48" width="9.34" height="8.18" fill="#a30000"/>
<rect x="106.73" y="745.48" width="9.34" height="8.18" fill="#fc0000"/>
<rect x="115.07" y="745.48" width="9.34" height="8.18" fill="#ee0000"/>
<rect x="123.4" y="745.48" width="9.34" height="8.18" fill="#e70000"/>
<rect x="131.74" y="745.48" width="9.34" height="8.18" fill="#be0000"/>
<rect x="140.07" y="745.48" width="9.34" height="8.18" fill="#b10000"/>
<rect x="148.41" y="745.48" width="9.34" height="8.18" fill="#520000"/>
<rect x="156.74" y="745.48" width="9.34" height="8.18" fill="#660000"/>
<rect x="165.07" y="745.48" width="9.34" height="8.18" fill="#220000"/>
<rect x="173.41" y="745.48" width="9.34" height="8.18" fill="#110000"/>
<rect x="181.75" y="745.48" width="9.34" height="8.18" fill="#110000"/>
<rect x="190.08" y="745.48" width="9.34" height="8.18" fill="#080000"/>
<rect x="198.42" y="745.48" width="9.34" height="8.18" fill="#040000"/>
<rect x="206.75" y="745.48" width="9.34" height="8.18" fill="#040000"/>
<rect x="215.09" y="745.48" width="9.34" height="8.18" fill="#040000"/>
<rect x="223.42" y="745.48" width="9.34" height="8.18" fill="#040000"/>
<rect x="231.75" y="745.48" width="9.34" height="8.18" fill="#040000"/>
<rect x="240.09" y="745.48" width="9.34" height="8.18" fill="#040000"/>
<rect x="248.43" y="745.48" width="9.34" height="8.18" fill="#000000"/>
<rect x="65.06" y="752.66" width="9.34" height="8.18" fill="#1b0000"/>
<rect x="73.39" y="752.66" width="9.34" height="8.18" fill="#440000"/>
<rect x="81.72" y="752.66" width="9.34" height="8.18" fill="#520000"/>
<rect x="90.06" y="752.66" width="9.34" height="8.18" fill="#e70000"/>
<rect x="98.4" y="752.66" width="9.34" height="8.18" fill="#ff1100"/>
<rect x="106.73" y="752.66" width="9.34" height="8.18" fill="#ff2500"/>
<rect x="115.07" y="752.66" width="9.34" height="8.18" fill="#be0000"/>
<rect x="123.4" y="752.66" width="9.34" height="8.18" fill="#e70000"/>
<rect x="131.74" y="752.66" width="9.34" height="8.18" fill="#aa0000"/>
<rect x="140.07" y="752.66" width="9.34" height="8.18" fill="#b80000"/>
<rect x="148.41" y="752.66" width="9.34" height="8.18" fill="#6d0000"/>
<rect x="156.74" y="752.66" width="9.34" height="8.18" fill="#520000"/>
<rect x="165.07" y="752.66" width="9.34" height="8.18" fill="#1b0000"/>
<rect x="173.41" y="752.66" width="9.34" height="8.18" fill="#080000"/>
<rect x="181.75" y="752.66" width="9.34" height="8.18" fill="#110000"/>
<rect x="190.08" y="752.66" width="9.34" height="8.18" fill="#110000"/>
<rect x="198.42" y="752.66" width="9.34" height="8.18" fill="#110000"/>
<rect x="206.75" y="752.66" width="9.34" height="8.18" fill="#080000"/>
<rect x="215.09" y="752.66" width="9.34" height="8.18" fill="#0d0000"/>
<rect x="223.42" y="752.66" width="9.34" height="8.18" fill="#110000"/>
<rect x="231.75" y="752.66" width="9.34" height="8.18" fill="#000000"/>
<rect x="240.09" y="752.66" width="9.34" height="8.18" fill="#000000"/>
<rect x="248.43" y="752.66" width="9.34" height="8.18" fill="#000000"/>
<rect x="65.06" y="759.85" width="9.34" height="8.18" fill="#140000"/>
<rect x="73.39" y="759.85" width="9.34" height="8.18" fill="#290000"/>
<rect x="81.72" y="759.85" width="9.34" height="8.18" fill="#740000"/>
<rect x="90.06" y="759.85" width="9.34" height="8.18" fill="#ff1100"/>
<rect x="98.4" y="759.85" width="9.34" height="8.18" fill="#ffeb00"/>
<rect x="106.73" y="759.85" width="9.34" height="8.18" fill="#ffdd00"/>
<rect x="115.07" y="759.85" width="9.34" height="8.18" fill="#ff2c00"/>
<rect x="123.4" y="759.85" width="9.34" height="8.18" fill="#ee0000"/>
<rect x="131.74" y="759.85" width="9.34" height="8.18" fill="#f50000"/>
<rect x="140.07" y="759.85" width="9.34" height="8.18" fill="#be0000"/>
<rect x="148.41" y="759.85" width="9.34" height="8.18" fill="#740000"/>
<rect x="156.74" y="759.85" width="9.34" height="8.18" fill="#520000"/>
<rect x="165.07" y="759.85" width="9.34" height="8.18" fill="#360000"/>
<rect x="173.41" y="759.85" width="9.34" height="8.18" fill="#190000"/>
<rect x="181.75" y="759.85" width="9.34" height="8.18" fill="#110000"/>
<rect x="190.08" y="759.85" width="9.34" height="8.18" fill="#110000"/>
<rect x="198.42" y="759.85" width="9.34" height="8.18" fill="#080000"/>
<rect x="206.75" y="759.85" width="9.34" height="8.18" fill="#080000"/>
<rect x="215.09" y="759.85" width="9.34" height="8.18" fill="#080000"/>
<rect x="223.42" y="759.85" width="9.34" height="8.18" fill="#000000"/>
<rect x="231.75" y="759.85" width="9.34" height="8.18" fill="#000000"/>
<rect x="65.06" y="767.03" width="9.34" height="8.18" fill="#140000"/>
<rect x="73.39" y="767.03" width="9.34" height="8.18" fill="#440000"/>
<rect x="81.72" y="767.03" width="9.34" height="8.18" fill="#7a0000"/>
<rect x="90.06" y="767.03" width="9.34" height="8.18" fill="#ff8b00"/>
<rect x="98.4" y="767.03" width="9.34" height="8.18" fill="#ff3a00"/>
<rect x="106.73" y="767.03" width="9.34" height="8.18" fill="#ffff0a"/>
<rect x="115.07" y="767.03" width="9.34" height="8.18" fill="#ff8b00"/>
<rect x="123.4" y="767.03" width="9.34" height="8.18" fill="#ff9900"/>
<rect x="131.74" y="767.03" width="9.34" height="8.18" fill="#ff2500"/>
<rect x="140.07" y="767.03" width="9.34" height="8.18" fill="#aa0000"/>
<rect x="148.41" y="767.03" width="9.34" height="8.18" fill="#7a0000"/>
<rect x="156.74" y="767.03" width="9.34" height="8.18" fill="#960000"/>
<rect x="165.07" y="767.03" width="9.34" height="8.18" fill="#290000"/>
<rect x="173.41" y="767.03" width="9.34" height="8.18" fill="#110000"/>
<rect x="181.75" y="767.03" width="9.34" height="8.18" fill="#110000"/>
<rect x="190.08" y="767.03" width="9.34" height="8.18" fill="#110000"/>
<rect x="198.42" y="767.03" width="9.34" height="8.18" fill="#110000"/>
<rect x="206.75" y="767.03" width="9.34" height="8.18" fill="#110000"/>
<rect x="215.09" y="767.03" width="9.34" height="8.18" fill="#150000"/>
<rect x="223.42" y="767.03" width="9.34" height="8.18" fill="#110000"/>
<rect x="231.75" y="767.03" width="9.34" height="8.18" fill="#000000"/>
<rect x="65.06" y="774.22" width="9.34" height="8.18" fill="#440000"/>
<rect x="73.39" y="774.22" width="9.34" height="8.18" fill="#360000"/>
<rect x="81.72" y="774.22" width="9.34" height="8.18" fill="#b10000"/>
<rect x="90.06" y="774.22" width="9.34" height="8.18" fill="#ff8b00"/>
<rect x="98.4" y="774.22" width="9.34" height="8.18" fill="#ffff66"/>
<rect x="106.73" y="774.22" width="9.34" height="8.18" fill="#ffff0a"/>
<rect x="115.07" y="774.22" width="9.34" height="8.18" fill="#ffcf00"/>
<rect x="123.4" y="774.22" width="9.34" height="8.18" fill="#ff8b00"/>
<rect x="131.74" y="774.22" width="9.34" height="8.18" fill="#ff5500"/>
<rect x="140.07" y="774.22" width="9.34" height="8.18" fill="#f50000"/>
<rect x="148.41" y="774.22" width="9.34" height="8.18" fill="#a30000"/>
<rect x="156.74" y="774.22" width="9.34" height="8.18" fill="#7a0000"/>
<rect x="165.07" y="774.22" width="9.34" height="8.18" fill="#4b0000"/>
<rect x="173.41" y="774.22" width="9.34" height="8.18" fill="#190000"/>
<rect x="181.75" y="774.22" width="9.34" height="8.18" fill="#110000"/>
<rect x="190.08" y="774.22" width="9.34" height="8.18" fill="#190000"/>
<rect x="198.42" y="774.22" width="9.34" height="8.18" fill="#040000"/>
<rect x="206.75" y="774.22" width="9.34" height="8.18" fill="#000000"/>
<rect x="215.09" y="774.22" width="9.34" height="8.18" fill="#000000"/>
<rect x="223.42" y="774.22" width="9.34" height="8.18" fill="#000000"/>
<rect x="231.75" y="774.22" width="9.34" height="8.18" fill="#000000"/>
<rect x="65.06" y="781.4" width="9.34" height="8.18" fill="#1b0000"/>
<rect x="73.39" y="781.4" width="9.34" height="8.18" fill="#360000"/>
<rect x="81.72" y="781.4" width="9.34" height="8.18" fill="#a30000"/>
<rect x="90.06" y="781.4" width="9.34" height="8.18" fill="#ff6300"/>
<rect x="98.4" y="781.4" width="9.34" height="8.18" fill="#ffff66"/>
<rect x="106.73" y="781.4" width="9.34" height="8.18" fill="#ffff14"/>
<rect x="115.07" y="781.4" width="9.34" height="8.18" fill="#ffcf00"/>
<rect x="123.4" y="781.4" width="9.34" height="8.18" fill="#ffdd00"/>
<rect x="131.74" y="781.4" width="9.34" height="8.18" fill="#ff6300"/>
<rect x="140.07" y="781.4" width="9.34" height="8.18" fill="#cc0000"/>
<rect x="148.41" y="781.4" width="9.34" height="8.18" fill="#be0000"/>
<rect x="156.74" y="781.4" width="9.34" height="8.18" fill="#6d0000"/>
<rect x="165.07" y="781.4" width="9.34" height="8.18" fill="#520000"/>
<rect x="173.41" y="781.4" width="9.34" height="8.18" fill="#1e0000"/>
<rect x="181.75" y="781.4" width="9.34" height="8.18" fill="#110000"/>
<rect x="190.08" y="781.4" width="9.34" height="8.18" fill="#190000"/>
<rect x="198.42" y="781.4" width="9.34" height="8.18" fill="#040000"/>
<rect x="206.75" y="781.4" width="9.34" height="8.18" fill="#000000"/>
<rect x="248.43" y="781.4" width="9.34" height="8.18" fill="#0d0000"/>
<rect x="256.76" y="781.4" width="9.34" height="8.18" fill="#000000"/>
<rect x="65.06" y="788.59" width="9.34" height="8.18" fill="#140000"/>
<rect x="73.39" y="788.59" width="9.34" height="8.18" fill="#440000"/>
<rect x="81.72" y="788.59" width="9.34" height="8.18" fill="#880000"/>
<rect x="90.06" y="788.59" width="9.34" height="8.18" fill="#ff5500"/>
<rect x="98.4" y="788.59" width="9.34" height="8.18" fill="#ff9900"/>
<rect x="106.73" y="788.59" width="9.34" height="8.18" fill="#ffff99"/>
<rect x="115.07" y="788.59" width="9.34" height="8.18" fill="#ffff1f"/>
<rect x="123.4" y="788.59" width="9.34" height="8.18" fill="#ffff99"/>
<rect x="131.74" y="788.59" width="9.34" height="8.18" fill="#fff800"/>
<rect x="140.07" y="788.59" width="9.34" height="8.18" fill="#ff0300"/>
<rect x="148.41" y="788.59" width="9.34" height="8.18" fill="#aa0000"/>
<rect x="156.74" y="788.59" width="9.34" height="8.18" fill="#740000"/>
<rect x="165.07" y="788.59" width="9.34" height="8.18" fill="#6d0000"/>
<rect x="173.41" y="788.59" width="9.34" height="8.18" fill="#220000"/>
<rect x="181.75" y="788.59" width="9.34" height="8.18" fill="#220000"/>
<rect x="190.08" y="788.59" width="9.34" height="8.18" fill="#190000"/>
<rect x="198.42" y="788.59" width="9.34" height="8.18" fill="#0d0000"/>
<rect x="206.75" y="788.59" width="9.34" height="8.18" fill="#080000"/>
<rect x="215.09" y="788.59" width="9.34" height="8.18" fill="#080000"/>
<rect x="223.42" y="788.59" width="9.34" height="8.18" fill="#0d0000"/>
<rect x="231.75" y="788.59" width="9.34" height="8.18" fill="#080000"/>
<rect x="240.09" y="788.59" width="9.34" height="8.18" fill="#0d0000"/>
<rect x="248.43" y="788.59" width="9.34" height="8.18" fill="#0d0000"/>
<rect x="256.76" y="788.59" width="9.34" height="8.18" fill="#080000"/>
<rect x="265.1" y="788.59" width="9.34" height="8.18" fill="#080000"/>
<rect x="273.43" y="788.59" width="9.34" height="8.18" fill="#000000"/>
<rect x="65.06" y="795.77" width="9.34" height="8.18" fill="#1b0000"/>
<rect x="73.39" y="795.77" width="9.34" height="8.18" fill="#6d0000"/>
<rect x="81.72" y="795.77" width="9.34" height="8.18" fill="#a30000"/>
<rect x="90.06" y="795.77" width="9.34" height="8.18" fill="#ff3a00"/>
<rect x="98.4" y="795.77" width="9.34" height="8.18" fill="#ffff47"/>
<rect x="106.73" y="795.77" width="9.34" height="8.18" fill="#ffff0a"/>
<rect x="115.07" y="795.77" width="9.34" height="8.18" fill="#ffff1f"/>
<rect x="123.4" y="795.77" width="9.34" height="8.18" fill="#ffcf00"/>
<rect x="131.74" y="795.77" width="9.34" height="8.18" fill="#ffb400"/>
<rect x="140.07" y="795.77" width="9.34" height="8.18" fill="#ff1100"/>
<rect x="148.41" y="795.77" width="9.34" height="8.18" fill="#cc0000"/>
<rect x="156.74" y="795.77" width="9.34" height="8.18" fill="#aa0000"/>
<rect x="165.07" y="795.77" width="9.34" height="8.18" fill="#880000"/>
<rect x="173.41" y="795.77" width="9.34" height="8.18" fill="#2b0000"/>
<rect x="181.75" y="795.77" width="9.34" height="8.18" fill="#1e0000"/>
<rect x="190.08" y="795.77" width="9.34" height="8.18" fill="#220000"/>
<rect x="198.42" y="795.77" width="9.34" height="8.18" fill="#220000"/>
<rect x="206.75" y="795.77" width="9.34" height="8.18" fill="#220000"/>
<rect x="215.09" y="795.77" width="9.34" height="8.18" fill="#110000"/>
<rect x="223.42" y="795.77" width="9.34" height="8.18" fill="#040000"/>
<rect x="231.75" y="795.77" width="9.34" height="8.18" fill="#000000"/>
<rect x="240.09" y="795.77" width="9.34" height="8.18" fill="#000000"/>
<rect x="248.43" y="795.77" width="9.34" height="8.18" fill="#000000"/>
<rect x="256.76" y="795.77" width="9.34" height="8.18" fill="#000000"/>
<rect x="265.1" y="795.77" width="9.34" height="8.18" fill="#000000"/>
<rect x="273.43" y="795.77" width="9.34" height="8.18" fill="#000000"/>
<rect x="65.06" y="802.96" width="9.34" height="8.18" fill="#1b0000"/>
<rect x="73.39" y="802.96" width="9.34" height="8.18" fill="#580000"/>
<rect x="81.72" y="802.96" width="9.34" height="8.18" fill="#b10000"/>
<rect x="90.06" y="802.96" width="9.34" height="8.18" fill="#ff8b00"/>
<rect x="98.4" y="802.96" width="9.34" height="8.18" fill="#ffff33"/>
<rect x="106.73" y="802.96" width="9.34" height="8.18" fill="#ffff14"/>
<rect x="115.07" y="802.96" width="9.34" height="8.18" fill="#ffffff"/>
<rect x="123.4" y="802.96" width="9.34" height="8.18" fill="#ffc200"/>
<rect x="131.74" y="802.96" width="9.34" height="8.18" fill="#ff5500"/>
<rect x="140.07" y="802.96" width="9.34" height="8.18" fill="#ff1f00"/>
<rect x="148.41" y="802.96" width="9.34" height="8.18" fill="#cc0000"/>
<rect x="156.74" y="802.96" width="9.34" height="8.18" fill="#be0000"/>
<rect x="165.07" y="802.96" width="9.34" height="8.18" fill="#6d0000"/>
<rect x="173.41" y="802.96" width="9.34" height="8.18" fill="#3d0000"/>
<rect x="181.75" y="802.96" width="9.34" height="8.18" fill="#150000"/>
<rect x="190.08" y="802.96" width="9.34" height="8.18" fill="#150000"/>
<rect x="198.42" y="802.96" width="9.34" height="8.18" fill="#1e0000"/>
<rect x="206.75" y="802.96" width="9.34" height="8.18" fill="#110000"/>
<rect x="215.09" y="802.96" width="9.34" height="8.18" fill="#110000"/>
<rect x="223.42" y="802.96" width="9.34" height="8.18" fill="#190000"/>
<rect x="231.75" y="802.96" width="9.34" height="8.18" fill="#190000"/>
<rect x="240.09" y="802.96" width="9.34" height="8.18" fill="#000000"/>
<rect x="65.06" y="810.14" width="9.34" height="8.18" fill="#1b0000"/>
<rect x="73.39" y="810.14" width="9.34" height="8.18" fill="#5f0000"/>
<rect x="81.72" y="810.14" width="9.34" height="8.18" fill="#f50000"/>
<rect x="90.06" y="810.14" width="9.34" height="8.18" fill="#ff9900"/>
<rect x="98.4" y="810.14" width="9.34" height="8.18" fill="#ffff85"/>
<rect x="106.73" y="810.14" width="9.34" height="8.18" fill="#ffdd00"/>
<rect x="115.07" y="810.14" width="9.34" height="8.18" fill="#ff9900"/>
<rect x="123.4" y="810.14" width="9.34" height="8.18" fill="#ffc200"/>
<rect x="131.74" y="810.14" width="9.34" height="8.18" fill="#ffb400"/>
<rect x="140.07" y="810.14" width="9.34" height="8.18" fill="#cc0000"/>
<rect x="148.41" y="810.14" width="9.34" height="8.18" fill="#880000"/>
<rect x="156.74" y="810.14" width="9.34" height="8.18" fill="#740000"/>
<rect x="165.07" y="810.14" width="9.34" height="8.18" fill="#580000"/>
<rect x="173.41" y="810.14" width="9.34" height="8.18" fill="#260000"/>
<rect x="181.75" y="810.14" width="9.34" height="8.18" fill="#150000"/>
<rect x="190.08" y="810.14" width="9.34" height="8.18" fill="#190000"/>
<rect x="198.42" y="810.14" width="9.34" height="8.18" fill="#080000"/>
<rect x="206.75" y="810.14" width="9.34" height="8.18" fill="#080000"/>
<rect x="215.09" y="810.14" width="9.34" height="8.18" fill="#000000"/>
<rect x="223.42" y="810.14" width="9.34" height="8.18" fill="#000000"/>
<rect x="231.75" y="810.14" width="9.34" height="8.18" fill="#000000"/>
<rect x="240.09" y="810.14" width="9.34" height="8.18" fill="#000000"/>
<rect x="65.06" y="817.33" width="9.34" height="8.18" fill="#000000"/>
<rect x="73.39" y="817.33" width="9.34" height="8.18" fill="#360000"/>
<rect x="81.72" y="817.33" width="9.34" height="8.18" fill="#a30000"/>
<rect x="90.06" y="817.33" width="9.34" height="8.18" fill="#ff7700"/>
<rect x="98.4" y="817.33" width="9.34" height="8.18" fill="#ffa700"/>
<rect x="106.73" y="817.33" width="9.34" height="8.18" fill="#ff7e00"/>
<rect x="115.07" y="817.33" width="9.34" height="8.18" fill="#ffdd00"/>
<rect x="123.4" y="817.33" width="9.34" height="8.18" fill="#ff8b00"/>
<rect x="131.74" y="817.33" width="9.34" height="8.18" fill="#ff3300"/>
<rect x="140.07" y="817.33" width="9.34" height="8.18" fill="#9c0000"/>
<rect x="148.41" y="817.33" width="9.34" height="8.18" fill="#5f0000"/>
<rect x="156.74" y="817.33" width="9.34" height="8.18" fill="#3d0000"/>
<rect x="165.07" y="817.33" width="9.34" height="8.18" fill="#3d0000"/>
<rect x="173.41" y="817.33" width="9.34" height="8.18" fill="#150000"/>
<rect x="181.75" y="817.33" width="9.34" height="8.18" fill="#110000"/>
<rect x="190.08" y="817.33" width="9.34" height="8.18" fill="#190000"/>
<rect x="198.42" y="817.33" width="9.34" height="8.18" fill="#110000"/>
<rect x="206.75" y="817.33" width="9.34" height="8.18" fill="#110000"/>
<rect x="215.09" y="817.33" width="9.34" height="8.18" fill="#0d0000"/>
<rect x="223.42" y="817.33" width="9.34" height="8.18" fill="#080000"/>
<rect x="231.75" y="817.33" width="9.34" height="8.18" fill="#0d0000"/>
<rect x="240.09" y="817.33" width="9.34" height="8.18" fill="#0d0000"/>
<rect x="248.43" y="817.33" width="9.34" height="8.18" fill="#000000"/>
<rect x="73.39" y="824.51" width="9.34" height="8.18" fill="#290000"/>
<rect x="81.72" y="824.51" width="9.34" height="8.18" fill="#740000"/>
<rect x="90.06" y="824.51" width="9.34" height="8.18" fill="#ff1f00"/>
<rect x="98.4" y="824.51" width="9.34" height="8.18" fill="#ff0300"/>
<rect x="106.73" y="824.51" width="9.34" height="8.18" fill="#ff6300"/>
<rect x="115.07" y="824.51" width="9.34" height="8.18" fill="#fff800"/>
<rect x="123.4" y="824.51" width="9.34" height="8.18" fill="#ff6300"/>
<rect x="131.74" y="824.51" width="9.34" height="8.18" fill="#f50000"/>
<rect x="140.07" y="824.51" width="9.34" height="8.18" fill="#960000"/>
<rect x="148.41" y="824.51" width="9.34" height="8.18" fill="#5f0000"/>
<rect x="156.74" y="824.51" width="9.34" height="8.18" fill="#520000"/>
<rect x="165.07" y="824.51" width="9.34" height="8.18" fill="#3d0000"/>
<rect x="173.41" y="824.51" width="9.34" height="8.18" fill="#110000"/>
<rect x="181.75" y="824.51" width="9.34" height="8.18" fill="#040000"/>
<rect x="190.08" y="824.51" width="9.34" height="8.18" fill="#000000"/>
<rect x="198.42" y="824.51" width="9.34" height="8.18" fill="#000000"/>
<rect x="206.75" y="824.51" width="9.34" height="8.18" fill="#000000"/>
<rect x="215.09" y="824.51" width="9.34" height="8.18" fill="#000000"/>
<rect x="223.42" y="824.51" width="9.34" height="8.18" fill="#000000"/>
<rect x="231.75" y="824.51" width="9.34" height="8.18" fill="#000000"/>
<rect x="240.09" y="824.51" width="9.34" height="8.18" fill="#000000"/>
<rect x="248.43" y="824.51" width="9.34" height="8.18" fill="#000000"/>
<rect x="73.39" y="831.7" width="9.34" height="8.18" fill="#1b0000"/>
<rect x="81.72" y="831.7" width="9.34" height="8.18" fill="#520000"/>
<rect x="90.06" y="831.7" width="9.34" height="8.18" fill="#aa0000"/>
<rect x="98.4" y="831.7" width="9.34" height="8.18" fill="#aa0000"/>
<rect x="106.73" y="831.7" width="9.34" height="8.18" fill="#e70000"/>
<rect x="115.07" y="831.7" width="9.34" height="8.18" fill="#ff6300"/>
<rect x="123.4" y="831.7" width="9.34" height="8.18" fill="#cc0000"/>
<rect x="131.74" y="831.7" width="9.34" height="8.18" fill="#b80000"/>
<rect x="140.07" y="831.7" width="9.34" height="8.18" fill="#5f0000"/>
<rect x="148.41" y="831.7" width="9.34" height="8.18" fill="#440000"/>
<rect x="156.74" y="831.7" width="9.34" height="8.18" fill="#440000"/>
<rect x="165.07" y="831.7" width="9.34" height="8.18" fill="#360000"/>
<rect x="173.41" y="831.7" width="9.34" height="8.18" fill="#0d0000"/>
<rect x="181.75" y="831.7" width="9.34" height="8.18" fill="#0d0000"/>
<rect x="190.08" y="831.7" width="9.34" height="8.18" fill="#000000"/>
<rect x="73.39" y="838.88" width="9.34" height="8.18" fill="#000000"/>
<rect x="81.72" y="838.88" width="9.34" height="8.18" fill="#220000"/>
<rect x="90.06" y="838.88" width="9.34" height="8.18" fill="#360000"/>
<rect x="98.4" y="838.88" width="9.34" height="8.18" fill="#440000"/>
<rect x="106.73" y="838.88" width="9.34" height="8.18" fill="#440000"/>
<rect x="115.07" y="838.88" width="9.34" height="8.18" fill="#360000"/>
<rect x="123.4" y="838.88" width="9.34" height="8.18" fill="#300000"/>
<rect x="131.74" y="838.88" width="9.34" height="8.18" fill="#220000"/>
<rect x="140.07" y="838.88" width="9.34" height="8.18" fill="#000000"/>
<rect x="148.41" y="838.88" width="9.34" height="8.18" fill="#1b0000"/>
<rect x="156.74" y="838.88" width="9.34" height="8.18" fill="#220000"/>
<rect x="165.07" y="838.88" width="9.34" height="8.18" fill="#140000"/>
<rect x="173.41" y="838.88" width="9.34" height="8.18" fill="#040000"/>
<rect x="181.75" y="838.88" width="9.34" height="8.18" fill="#000000"/>
<rect x="190.08" y="838.88" width="9.34" height="8.18" fill="#000000"/>
</g>
<rect x="115.42" y="803.31" width="7.64" height="6.48" fill="#fff" stroke="#8a8fb0" stroke-width="0.7"/>
<defs><linearGradient id="hot" x1="0" y1="1" x2="0" y2="0"><stop offset="0" stop-color="#000"/><stop offset="0.375" stop-color="#f00"/><stop offset="0.75" stop-color="#ff0"/><stop offset="1" stop-color="#fff"/></linearGradient></defs>
<rect x="290.5" y="637.4" width="10.4" height="208.1" fill="url(#hot)" stroke="#9a9a9a" stroke-width="0.9"/>
<path d="M300.9 706.8h-2.2M300.9 776.2h-2.2" stroke="#444" stroke-width="0.7"/>
<text transform="matrix(0.84 0 0 1 304.41 642.7)" font-size="12.4" fill="#111">1.5</text>
<text transform="matrix(1.05 0 0 1 318.45 634.8)" font-size="7.6" fill="#111">-2</text>
<text transform="matrix(1.02 0 0 1 304.23 851.1)" font-size="11.8" fill="#111">0</text>
<text transform="matrix(0 -1.080 1 0 314.45 766.02)" font-size="9.60" fill="#111">Probability</text>
<text transform="matrix(1.01 0 0 1 22.86 642.9)" font-size="12.6" fill="#111">5</text>
<text transform="matrix(1.01 0 0 1 22.7 683)" font-size="12.6" fill="#111">4</text>
<text transform="matrix(1.01 0 0 1 22.88 723.1)" font-size="12.6" fill="#111">3</text>
<text transform="matrix(1.01 0 0 1 22.96 763.6)" font-size="12.6" fill="#111">2</text>
<text transform="matrix(1.01 0 0 1 22.94 803.5)" font-size="12.6" fill="#111">1</text>
<text transform="matrix(1.01 0 0 1 22.82 843.4)" font-size="12.6" fill="#111">0</text>
<text transform="matrix(1.01 0 0 1 37.61 863)" font-size="12.6" fill="#111">0</text>
<text transform="matrix(1.01 0 0 1 77.33 863)" font-size="12.6" fill="#111">0.2</text>
<text transform="matrix(1.01 0 0 1 128.09 863)" font-size="12.6" fill="#111">0.4</text>
<text transform="matrix(1.01 0 0 1 178.49 863)" font-size="12.6" fill="#111">0.6</text>
<text transform="matrix(1.01 0 0 1 228.88 863)" font-size="12.6" fill="#111">0.8</text>
<text transform="matrix(1.01 0 0 1 277.79 863)" font-size="12.6" fill="#111">1</text>
<text transform="matrix(0.95 0 0 1 154.65 880.47)" font-size="13.42" fill="#111">PC</text>
<text transform="matrix(0 -0.92 1 0 11.47 748.82)" font-size="13.56" fill="#111">AC</text>
<text transform="matrix(0.95 0 0 1 0.55 629.8)" font-size="18.6" fill="#000">E</text>
</g>
<g id="F">
<rect x="382.5" y="637.5" width="259.0" height="209.0" fill="none" stroke="#8e8e8e" stroke-width="0.9"/>
<path d="M382.5 707h3M382.5 777h3" stroke="#999" stroke-width="0.8"/>
<path d="M457.4 723C457.3 726.7 457.3 738.4 457.2 745C457.2 751.6 457.3 758.8 457.2 762.5C457.1 766.2 457.1 765.3 456.8 767.1C456.4 768.9 455.5 771.2 454.9 773.3C454.2 775.3 453.6 777.4 453 779.4C452.3 781.4 451.5 783.5 450.9 785.5C450.2 787.5 449.6 789.7 449.1 791.7C448.5 793.8 448.1 795.8 447.7 797.8C447.3 799.8 446.9 801.9 446.7 803.9C446.4 805.9 446.2 808 446.4 810C446.5 812 446.7 814.2 447.4 816.2C448.1 818.2 449.4 820.3 450.6 822.3C451.7 824.3 453.4 826.6 454.4 828.4C455.3 830.2 455.8 831.5 456.2 833C456.7 834.5 456.9 835.4 457.1 837.6C457.2 839.9 457.2 846.5 457.4 846.5C457.5 846.5 457.5 839.9 457.7 837.6C457.8 835.4 458 834.5 458.5 833C458.9 831.5 459.4 830.2 460.4 828.4C461.3 826.6 463 824.3 464.2 822.3C465.3 820.3 466.7 818.2 467.4 816.2C468.1 814.2 468.2 812 468.4 810C468.5 808 468.3 805.9 468.1 803.9C467.8 801.9 467.4 799.8 467.1 797.8C466.7 795.8 466.2 793.8 465.7 791.7C465.1 789.7 464.5 787.5 463.9 785.5C463.2 783.5 462.4 781.4 461.8 779.4C461.1 777.4 460.5 775.3 459.9 773.3C459.2 771.2 458.3 768.9 458 767.1C457.6 765.3 457.6 766.2 457.5 762.5C457.4 758.8 457.5 751.6 457.5 745C457.4 738.4 457.4 726.7 457.4 723Z" fill="#d9948f" stroke="#a81c1c" stroke-width="0.8" stroke-linejoin="round"/>
<path d="M466.5 807.8h1.35v1.35h-1.35zM464.2 826.2h1.35v1.35h-1.35zM459.6 769.3h1.35v1.35h-1.35zM443.9 808.7h1.35v1.35h-1.35zM458.1 798.7h1.35v1.35h-1.35zM447.5 803.3h1.35v1.35h-1.35zM464.7 796.6h1.35v1.35h-1.35zM447.1 789.8h1.35v1.35h-1.35zM440.4 804h1.35v1.35h-1.35zM448.3 816.8h1.35v1.35h-1.35zM455.4 831.8h1.35v1.35h-1.35zM460.2 824.9h1.35v1.35h-1.35zM461.9 790.7h1.35v1.35h-1.35zM453.7 827.1h1.35v1.35h-1.35zM446.9 792.1h1.35v1.35h-1.35zM458.1 774.5h1.35v1.35h-1.35zM456.6 756.2h1.35v1.35h-1.35zM456.1 796h1.35v1.35h-1.35zM462.6 794h1.35v1.35h-1.35zM447.8 778.6h1.35v1.35h-1.35zM441.6 814.6h1.35v1.35h-1.35zM459.2 811.6h1.35v1.35h-1.35zM456.5 762.1h1.35v1.35h-1.35zM462.4 822.8h1.35v1.35h-1.35zM454.5 827.4h1.35v1.35h-1.35zM464.7 794.3h1.35v1.35h-1.35zM463.3 783.3h1.35v1.35h-1.35zM470.4 815.8h1.35v1.35h-1.35zM458.9 780.8h1.35v1.35h-1.35zM465.7 823.7h1.35v1.35h-1.35zM450.7 805.2h1.35v1.35h-1.35zM448.4 785.3h1.35v1.35h-1.35zM446.2 815.5h1.35v1.35h-1.35zM457.3 778.7h1.35v1.35h-1.35zM459.6 798.6h1.35v1.35h-1.35zM454.5 818.3h1.35v1.35h-1.35zM448.1 778.2h1.35v1.35h-1.35zM444.8 802.3h1.35v1.35h-1.35zM460.8 815.2h1.35v1.35h-1.35zM454.5 810h1.35v1.35h-1.35zM452.1 783.9h1.35v1.35h-1.35zM468.2 803.2h1.35v1.35h-1.35zM456.6 829.8h1.35v1.35h-1.35zM450 812.3h1.35v1.35h-1.35zM452.9 798h1.35v1.35h-1.35zM457.4 832.2h1.35v1.35h-1.35zM443.9 799.2h1.35v1.35h-1.35zM467.6 795.8h1.35v1.35h-1.35zM464.9 795.8h1.35v1.35h-1.35zM464.9 813.5h1.35v1.35h-1.35zM450.3 795.3h1.35v1.35h-1.35zM462.8 801.8h1.35v1.35h-1.35zM461.2 796.8h1.35v1.35h-1.35zM458.2 803.3h1.35v1.35h-1.35zM455.6 795.1h1.35v1.35h-1.35zM464.6 819.5h1.35v1.35h-1.35zM463.7 795h1.35v1.35h-1.35zM466.5 817.7h1.35v1.35h-1.35zM469.2 819.7h1.35v1.35h-1.35zM457.3 824.8h1.35v1.35h-1.35zM468.3 790h1.35v1.35h-1.35zM463.7 801.4h1.35v1.35h-1.35zM465.9 810.4h1.35v1.35h-1.35zM454.1 807.3h1.35v1.35h-1.35zM461.2 808h1.35v1.35h-1.35zM445.4 809.5h1.35v1.35h-1.35zM447.8 801.1h1.35v1.35h-1.35zM442.1 813.3h1.35v1.35h-1.35zM443 798.5h1.35v1.35h-1.35zM450.3 780.7h1.35v1.35h-1.35zM455.9 785.1h1.35v1.35h-1.35zM459.6 800.9h1.35v1.35h-1.35zM443.3 790.4h1.35v1.35h-1.35zM453.9 798.8h1.35v1.35h-1.35zM453.9 783.8h1.35v1.35h-1.35zM450.1 776.4h1.35v1.35h-1.35zM459.4 805.3h1.35v1.35h-1.35zM455.4 826.6h1.35v1.35h-1.35zM453.2 819.5h1.35v1.35h-1.35zM458.1 782.4h1.35v1.35h-1.35zM458.2 827.6h1.35v1.35h-1.35zM441.7 796.5h1.35v1.35h-1.35zM459.2 782.2h1.35v1.35h-1.35zM465.1 782.6h1.35v1.35h-1.35zM448.1 799.8h1.35v1.35h-1.35zM453.1 797h1.35v1.35h-1.35zM458.1 827.2h1.35v1.35h-1.35zM456.6 797h1.35v1.35h-1.35zM471.7 799.1h1.35v1.35h-1.35zM456 798.9h1.35v1.35h-1.35zM455.5 782.5h1.35v1.35h-1.35zM466.4 795.8h1.35v1.35h-1.35zM455.1 769.8h1.35v1.35h-1.35zM452.4 826.4h1.35v1.35h-1.35zM470.3 792h1.35v1.35h-1.35zM456 794.8h1.35v1.35h-1.35zM464.7 806.9h1.35v1.35h-1.35zM452.3 783.4h1.35v1.35h-1.35zM450 805.3h1.35v1.35h-1.35zM452.1 806.1h1.35v1.35h-1.35zM441.9 813h1.35v1.35h-1.35zM468.6 793.8h1.35v1.35h-1.35zM443.5 818.9h1.35v1.35h-1.35zM459.1 812h1.35v1.35h-1.35zM456.1 813.3h1.35v1.35h-1.35zM454.5 824h1.35v1.35h-1.35zM450.7 816.7h1.35v1.35h-1.35zM467 816h1.35v1.35h-1.35zM449.8 812h1.35v1.35h-1.35zM445.6 815h1.35v1.35h-1.35zM456.6 800.5h1.35v1.35h-1.35zM459.1 792h1.35v1.35h-1.35zM448.5 816h1.35v1.35h-1.35zM460.9 820.4h1.35v1.35h-1.35zM460.9 770.9h1.35v1.35h-1.35zM456.4 740.9h1.35v1.35h-1.35zM456.6 760.6h1.35v1.35h-1.35zM457.2 771.4h1.35v1.35h-1.35zM456 773.9h1.35v1.35h-1.35z" fill="#050505"/>
<path d="M568.6 709.2C568.6 711.4 568.4 717.5 568.3 722.3C568.2 727.1 568.2 733.9 568.2 738.1C568.3 742.3 568.5 745.1 568.5 747.7C568.5 750.4 568.5 751.9 568.2 754C567.9 756.1 567.2 758.3 566.8 760.4C566.4 762.5 566.1 764.7 565.6 766.8C565.1 768.9 564.7 771 564 773.1C563.3 775.2 562.3 777.4 561.6 779.5C560.9 781.6 560.4 783.7 559.9 785.8C559.4 787.9 558.7 790.3 558.3 792.2C557.9 794.1 557.7 795.4 557.7 797C557.7 798.6 557.6 799.9 558.3 801.7C559 803.6 560.6 806 561.8 808.1C563 810.2 564.7 812.5 565.6 814.4C566.5 816.2 566.9 817.6 567.4 819.2C567.9 820.8 568.1 821.8 568.3 824C568.5 826.2 568.5 832.7 568.6 832.7C568.7 832.7 568.7 826.2 568.9 824C569.1 821.8 569.4 820.8 569.8 819.2C570.3 817.6 570.7 816.2 571.6 814.4C572.5 812.5 574.2 810.2 575.4 808.1C576.6 806 578.2 803.6 578.9 801.7C579.6 799.9 579.5 798.6 579.5 797C579.5 795.4 579.3 794.1 578.9 792.2C578.5 790.3 577.9 787.9 577.3 785.8C576.8 783.7 576.3 781.6 575.6 779.5C574.9 777.4 573.9 775.2 573.2 773.1C572.5 771 572.1 768.9 571.6 766.8C571.1 764.7 570.8 762.5 570.4 760.4C570 758.3 569.3 756.1 569 754C568.7 751.9 568.7 750.4 568.7 747.7C568.7 745.1 568.9 742.3 569 738.1C569 733.9 569 727.1 568.9 722.3C568.8 717.5 568.6 711.4 568.6 709.2Z" fill="#d9948f" stroke="#a81c1c" stroke-width="0.8" stroke-linejoin="round"/>
<path d="M557.3 787.5h1.35v1.35h-1.35zM568 801.1h1.35v1.35h-1.35zM569.2 808h1.35v1.35h-1.35zM564.1 791.7h1.35v1.35h-1.35zM575.2 798.5h1.35v1.35h-1.35zM560 774h1.35v1.35h-1.35zM570.9 796h1.35v1.35h-1.35zM575 803.5h1.35v1.35h-1.35zM570.6 768h1.35v1.35h-1.35zM554.6 798.3h1.35v1.35h-1.35zM562.4 780.2h1.35v1.35h-1.35zM579.6 802.3h1.35v1.35h-1.35zM564.2 801.4h1.35v1.35h-1.35zM565.8 785.3h1.35v1.35h-1.35zM570.2 808.2h1.35v1.35h-1.35zM574.9 769.8h1.35v1.35h-1.35zM560 772.5h1.35v1.35h-1.35zM554.8 791.6h1.35v1.35h-1.35zM565.4 791h1.35v1.35h-1.35zM555.6 789.2h1.35v1.35h-1.35zM571.4 792.4h1.35v1.35h-1.35zM569.2 807.8h1.35v1.35h-1.35zM560.6 792.3h1.35v1.35h-1.35zM567.4 823.3h1.35v1.35h-1.35zM559.6 800.8h1.35v1.35h-1.35zM563.7 791.8h1.35v1.35h-1.35zM576.8 799.1h1.35v1.35h-1.35zM573.7 768.3h1.35v1.35h-1.35zM564.8 793.7h1.35v1.35h-1.35zM563.7 816.5h1.35v1.35h-1.35zM566 803.2h1.35v1.35h-1.35zM564.2 775.3h1.35v1.35h-1.35zM560.9 770.1h1.35v1.35h-1.35zM576.8 801.2h1.35v1.35h-1.35zM573.8 804.2h1.35v1.35h-1.35zM565.9 783.5h1.35v1.35h-1.35zM565.6 778.6h1.35v1.35h-1.35zM563.9 790.7h1.35v1.35h-1.35zM579.2 797.2h1.35v1.35h-1.35zM579.6 779.2h1.35v1.35h-1.35zM579.7 778.5h1.35v1.35h-1.35zM554 791.6h1.35v1.35h-1.35zM570.3 774.9h1.35v1.35h-1.35zM564.2 815.5h1.35v1.35h-1.35zM554.8 792.2h1.35v1.35h-1.35zM553.8 794.9h1.35v1.35h-1.35zM576 789.7h1.35v1.35h-1.35zM557.6 790.8h1.35v1.35h-1.35zM580.1 800h1.35v1.35h-1.35zM555.1 785.8h1.35v1.35h-1.35zM572.1 792.4h1.35v1.35h-1.35zM562.9 771.1h1.35v1.35h-1.35zM567.9 724.4h1.35v1.35h-1.35zM557.4 793.4h1.35v1.35h-1.35zM569.1 791.2h1.35v1.35h-1.35zM579.6 807.6h1.35v1.35h-1.35zM568.4 810.9h1.35v1.35h-1.35zM553.7 795.9h1.35v1.35h-1.35zM561.5 798.9h1.35v1.35h-1.35zM555.2 799.7h1.35v1.35h-1.35zM567.6 798.5h1.35v1.35h-1.35zM571.3 796.6h1.35v1.35h-1.35zM559.6 790.8h1.35v1.35h-1.35zM571.2 805.7h1.35v1.35h-1.35zM571 801.3h1.35v1.35h-1.35zM564.9 794.8h1.35v1.35h-1.35zM568.9 761h1.35v1.35h-1.35zM565.1 772.9h1.35v1.35h-1.35zM553.7 788.6h1.35v1.35h-1.35zM576.2 803.2h1.35v1.35h-1.35zM568.1 736.7h1.35v1.35h-1.35zM569.8 818.5h1.35v1.35h-1.35zM563.7 768.3h1.35v1.35h-1.35zM559.5 802.3h1.35v1.35h-1.35zM574.2 766.9h1.35v1.35h-1.35zM570.4 815.5h1.35v1.35h-1.35zM564 788.5h1.35v1.35h-1.35zM560 797.5h1.35v1.35h-1.35zM566 792.5h1.35v1.35h-1.35zM558.5 807.6h1.35v1.35h-1.35zM560.2 801.4h1.35v1.35h-1.35zM560.4 804.9h1.35v1.35h-1.35zM566.1 761.5h1.35v1.35h-1.35zM574.9 807.3h1.35v1.35h-1.35zM573.4 813.3h1.35v1.35h-1.35zM562.3 813.5h1.35v1.35h-1.35zM570.6 780.4h1.35v1.35h-1.35zM577.8 787.4h1.35v1.35h-1.35zM561.5 786.5h1.35v1.35h-1.35zM570 789.1h1.35v1.35h-1.35zM565.1 786.3h1.35v1.35h-1.35zM569 779.9h1.35v1.35h-1.35zM571.6 777h1.35v1.35h-1.35zM565.1 770.1h1.35v1.35h-1.35zM575.9 789h1.35v1.35h-1.35zM560.4 805.7h1.35v1.35h-1.35zM552.5 793.2h1.35v1.35h-1.35zM579.8 793.8h1.35v1.35h-1.35zM568.3 784.1h1.35v1.35h-1.35zM564 770.7h1.35v1.35h-1.35zM552.4 791.9h1.35v1.35h-1.35zM559.7 807.7h1.35v1.35h-1.35zM574.3 773.1h1.35v1.35h-1.35zM567.7 821.7h1.35v1.35h-1.35zM560.7 810.6h1.35v1.35h-1.35zM560.5 798h1.35v1.35h-1.35zM559.7 781.3h1.35v1.35h-1.35zM570.3 795.7h1.35v1.35h-1.35zM567.2 732.5h1.35v1.35h-1.35zM573.5 790.7h1.35v1.35h-1.35zM564 812.2h1.35v1.35h-1.35zM571.8 775.3h1.35v1.35h-1.35zM573.1 774.6h1.35v1.35h-1.35zM569.2 782.6h1.35v1.35h-1.35zM560.5 807.6h1.35v1.35h-1.35zM567.8 722h1.35v1.35h-1.35zM568.2 728.4h1.35v1.35h-1.35zM568.1 732.4h1.35v1.35h-1.35zM567.9 745.9h1.35v1.35h-1.35zM565.6 759.6h1.35v1.35h-1.35zM566.8 760.9h1.35v1.35h-1.35zM568 759.4h1.35v1.35h-1.35zM569.1 761.1h1.35v1.35h-1.35zM570.4 760h1.35v1.35h-1.35zM567.4 762.4h1.35v1.35h-1.35zM568.6 765.9h1.35v1.35h-1.35z" fill="#050505"/>
<rect x="439.2" y="705.9" width="37" height="2.2" fill="#0a0a0a"/>
<polygon points="447.25,682.20 448.20,684.77 451.33,684.76 448.79,686.33 449.77,688.89 447.25,687.30 444.73,688.89 445.71,686.33 443.17,684.76 446.30,684.77" fill="#dc1414" stroke="#200303" stroke-width="0.75" stroke-linejoin="miter"/>
<polygon points="457.85,682.20 458.80,684.77 461.93,684.76 459.39,686.33 460.37,688.89 457.85,687.30 455.33,688.89 456.31,686.33 453.77,684.76 456.90,684.77" fill="#dc1414" stroke="#200303" stroke-width="0.75" stroke-linejoin="miter"/>
<polygon points="468.45,682.20 469.40,684.77 472.53,684.76 469.99,686.33 470.97,688.89 468.45,687.30 465.93,688.89 466.91,686.33 464.37,684.76 467.50,684.77" fill="#dc1414" stroke="#200303" stroke-width="0.75" stroke-linejoin="miter"/>
<rect x="550.3" y="705.9" width="37" height="2.2" fill="#0a0a0a"/>
<polygon points="558.35,682.20 559.30,684.77 562.43,684.76 559.89,686.33 560.87,688.89 558.35,687.30 555.83,688.89 556.81,686.33 554.27,684.76 557.40,684.77" fill="#dc1414" stroke="#200303" stroke-width="0.75" stroke-linejoin="miter"/>
<polygon points="568.95,682.20 569.90,684.77 573.03,684.76 570.49,686.33 571.47,688.89 568.95,687.30 566.43,688.89 567.41,686.33 564.87,684.76 568.00,684.77" fill="#dc1414" stroke="#200303" stroke-width="0.75" stroke-linejoin="miter"/>
<polygon points="579.55,682.20 580.50,684.77 583.63,684.76 581.09,686.33 582.07,688.89 579.55,687.30 577.03,688.89 578.01,686.33 575.47,684.76 578.60,684.77" fill="#dc1414" stroke="#200303" stroke-width="0.75" stroke-linejoin="miter"/>
<text transform="matrix(1.06 0 0 1 361.8 641.6)" font-size="10.5" fill="#111">1.5</text>
<text transform="matrix(1.06 0 0 1 371.15 711.6)" font-size="10.5" fill="#111">1</text>
<text transform="matrix(1.06 0 0 1 361.8 781.4)" font-size="10.5" fill="#111">0.5</text>
<text transform="matrix(1.06 0 0 1 371.04 848.1)" font-size="10.5" fill="#111">0</text>
<text transform="matrix(0 -1.000 1 0 354.00 785.37)" font-size="12.80" fill="#111">Normalized TE</text>
<text transform="matrix(0.86 0 0 1 436.88 873.88)" font-size="12.43" fill="#111">AC</text>
<path d="M452.8 869.4H459.8" stroke="#111" stroke-width="0.9" fill="none"/><path d="M462.3 869.4l-3.4 -1.5v3z" fill="#111"/>
<text transform="matrix(0.89 0 0 1 463.9 873.88)" font-size="12.43" fill="#111">PC</text>
<text transform="matrix(0.89 0 0 1 546 873.88)" font-size="12.43" fill="#111">PC</text>
<path d="M562.1 869.4H569.3" stroke="#111" stroke-width="0.9" fill="none"/><path d="M571.8 869.4l-3.4 -1.5v3z" fill="#111"/>
<text transform="matrix(0.89 0 0 1 573.08 873.88)" font-size="12.43" fill="#111">AC</text>
<text transform="matrix(0.95 0 0 1 339.54 630.7)" font-size="18.75" fill="#000">F</text>
</g>
</g>
</svg>
</body></html>
